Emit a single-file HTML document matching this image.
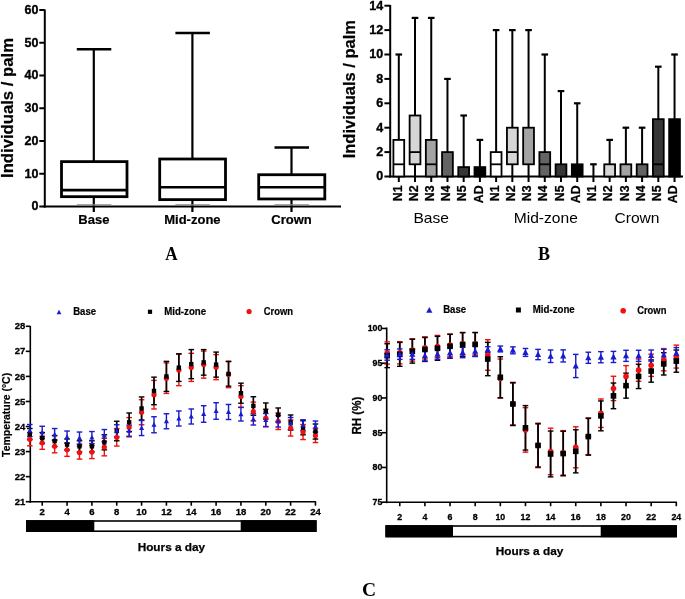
<!DOCTYPE html>
<html><head><meta charset="utf-8"><style>
html,body{margin:0;padding:0;background:#fff;width:685px;height:599px;overflow:hidden}
svg{display:block;will-change:transform}
</style></head><body>
<svg width="685" height="599" viewBox="0 0 685 599">
<rect width="685" height="599" fill="#fff"/>
<line x1="44.8" y1="9.5" x2="44.8" y2="207.5" stroke="#000" stroke-width="2"/>
<line x1="43.8" y1="206.5" x2="341" y2="206.5" stroke="#000" stroke-width="2"/>
<line x1="39.3" y1="206.5" x2="44.8" y2="206.5" stroke="#000" stroke-width="2"/>
<text font-family='"Liberation Sans", sans-serif' font-size="12.5" font-weight="bold" text-anchor="end" fill="#000" transform="translate(38.4 210.3)" stroke="#000" stroke-width="0.35">0</text>
<line x1="39.3" y1="173.75" x2="44.8" y2="173.75" stroke="#000" stroke-width="2"/>
<text font-family='"Liberation Sans", sans-serif' font-size="12.5" font-weight="bold" text-anchor="end" fill="#000" transform="translate(38.4 177.55)" stroke="#000" stroke-width="0.35">10</text>
<line x1="39.3" y1="141" x2="44.8" y2="141" stroke="#000" stroke-width="2"/>
<text font-family='"Liberation Sans", sans-serif' font-size="12.5" font-weight="bold" text-anchor="end" fill="#000" transform="translate(38.4 144.8)" stroke="#000" stroke-width="0.35">20</text>
<line x1="39.3" y1="108.25" x2="44.8" y2="108.25" stroke="#000" stroke-width="2"/>
<text font-family='"Liberation Sans", sans-serif' font-size="12.5" font-weight="bold" text-anchor="end" fill="#000" transform="translate(38.4 112.05)" stroke="#000" stroke-width="0.35">30</text>
<line x1="39.3" y1="75.5" x2="44.8" y2="75.5" stroke="#000" stroke-width="2"/>
<text font-family='"Liberation Sans", sans-serif' font-size="12.5" font-weight="bold" text-anchor="end" fill="#000" transform="translate(38.4 79.3)" stroke="#000" stroke-width="0.35">40</text>
<line x1="39.3" y1="42.75" x2="44.8" y2="42.75" stroke="#000" stroke-width="2"/>
<text font-family='"Liberation Sans", sans-serif' font-size="12.5" font-weight="bold" text-anchor="end" fill="#000" transform="translate(38.4 46.55)" stroke="#000" stroke-width="0.35">50</text>
<line x1="39.3" y1="10" x2="44.8" y2="10" stroke="#000" stroke-width="2"/>
<text font-family='"Liberation Sans", sans-serif' font-size="12.5" font-weight="bold" text-anchor="end" fill="#000" transform="translate(38.4 13.8)" stroke="#000" stroke-width="0.35">60</text>
<line x1="93.8" y1="49.3" x2="93.8" y2="161.63" stroke="#000" stroke-width="2.2"/>
<line x1="93.8" y1="196.68" x2="93.8" y2="212" stroke="#000" stroke-width="2.2"/>
<line x1="76.8" y1="49.3" x2="111.3" y2="49.3" stroke="#000" stroke-width="2.6"/>
<line x1="76.8" y1="204.9" x2="111.3" y2="204.9" stroke="#888" stroke-width="1.2"/>
<rect x="61.5" y="161.63" width="65.5" height="35.04" fill="none" stroke="#000" stroke-width="2.8"/>
<line x1="61.5" y1="190.12" x2="127" y2="190.12" stroke="#000" stroke-width="2.6"/>
<text font-family='"Liberation Sans", sans-serif' font-size="12" font-weight="bold" text-anchor="middle" fill="#000" transform="translate(93.8 223.6) scale(1.085 1)" stroke="#000" stroke-width="0.2">Base</text>
<line x1="192.4" y1="32.93" x2="192.4" y2="159.01" stroke="#000" stroke-width="2.2"/>
<line x1="192.4" y1="199.62" x2="192.4" y2="212" stroke="#000" stroke-width="2.2"/>
<line x1="175.4" y1="32.93" x2="209.9" y2="32.93" stroke="#000" stroke-width="2.6"/>
<line x1="175.4" y1="204.9" x2="209.9" y2="204.9" stroke="#888" stroke-width="1.2"/>
<rect x="159.7" y="159.01" width="65.8" height="40.61" fill="none" stroke="#000" stroke-width="2.8"/>
<line x1="159.7" y1="187.18" x2="225.5" y2="187.18" stroke="#000" stroke-width="2.6"/>
<text font-family='"Liberation Sans", sans-serif' font-size="12" font-weight="bold" text-anchor="middle" fill="#000" transform="translate(192.4 223.6) scale(1.085 1)" stroke="#000" stroke-width="0.2">Mid-zone</text>
<line x1="291.5" y1="147.55" x2="291.5" y2="174.73" stroke="#000" stroke-width="2.2"/>
<line x1="291.5" y1="198.97" x2="291.5" y2="212" stroke="#000" stroke-width="2.2"/>
<line x1="274.5" y1="147.55" x2="309" y2="147.55" stroke="#000" stroke-width="2.6"/>
<line x1="274.5" y1="204.9" x2="309" y2="204.9" stroke="#888" stroke-width="1.2"/>
<rect x="258.7" y="174.73" width="66.1" height="24.23" fill="none" stroke="#000" stroke-width="2.8"/>
<line x1="258.7" y1="187.18" x2="324.8" y2="187.18" stroke="#000" stroke-width="2.6"/>
<text font-family='"Liberation Sans", sans-serif' font-size="12" font-weight="bold" text-anchor="middle" fill="#000" transform="translate(291.5 223.6) scale(1.085 1)" stroke="#000" stroke-width="0.2">Crown</text>
<text font-family='"Liberation Sans", sans-serif' font-size="15.6" font-weight="bold" text-anchor="middle" fill="#000" transform="translate(12.8 108) rotate(-90) scale(1.070 1)" stroke="#000" stroke-width="0.2">Individuals / palm</text>
<text font-family='"Liberation Serif", serif' font-size="19" font-weight="bold" text-anchor="middle" fill="#000" transform="translate(171.3 260) scale(0.900 1)">A</text>
<line x1="390.2" y1="5" x2="390.2" y2="177.5" stroke="#000" stroke-width="2"/>
<line x1="389.2" y1="176.5" x2="683" y2="176.5" stroke="#000" stroke-width="2"/>
<line x1="384.4" y1="176.5" x2="390.2" y2="176.5" stroke="#000" stroke-width="2"/>
<text font-family='"Liberation Sans", sans-serif' font-size="12.5" font-weight="bold" text-anchor="end" fill="#000" transform="translate(383.1 180.3)" stroke="#000" stroke-width="0.35">0</text>
<line x1="384.4" y1="152.1" x2="390.2" y2="152.1" stroke="#000" stroke-width="2"/>
<text font-family='"Liberation Sans", sans-serif' font-size="12.5" font-weight="bold" text-anchor="end" fill="#000" transform="translate(383.1 155.9)" stroke="#000" stroke-width="0.35">2</text>
<line x1="384.4" y1="127.7" x2="390.2" y2="127.7" stroke="#000" stroke-width="2"/>
<text font-family='"Liberation Sans", sans-serif' font-size="12.5" font-weight="bold" text-anchor="end" fill="#000" transform="translate(383.1 131.5)" stroke="#000" stroke-width="0.35">4</text>
<line x1="384.4" y1="103.3" x2="390.2" y2="103.3" stroke="#000" stroke-width="2"/>
<text font-family='"Liberation Sans", sans-serif' font-size="12.5" font-weight="bold" text-anchor="end" fill="#000" transform="translate(383.1 107.1)" stroke="#000" stroke-width="0.35">6</text>
<line x1="384.4" y1="78.9" x2="390.2" y2="78.9" stroke="#000" stroke-width="2"/>
<text font-family='"Liberation Sans", sans-serif' font-size="12.5" font-weight="bold" text-anchor="end" fill="#000" transform="translate(383.1 82.7)" stroke="#000" stroke-width="0.35">8</text>
<line x1="384.4" y1="54.5" x2="390.2" y2="54.5" stroke="#000" stroke-width="2"/>
<text font-family='"Liberation Sans", sans-serif' font-size="12.5" font-weight="bold" text-anchor="end" fill="#000" transform="translate(383.1 58.3)" stroke="#000" stroke-width="0.35">10</text>
<line x1="384.4" y1="30.1" x2="390.2" y2="30.1" stroke="#000" stroke-width="2"/>
<text font-family='"Liberation Sans", sans-serif' font-size="12.5" font-weight="bold" text-anchor="end" fill="#000" transform="translate(383.1 33.9)" stroke="#000" stroke-width="0.35">12</text>
<line x1="384.4" y1="5.7" x2="390.2" y2="5.7" stroke="#000" stroke-width="2"/>
<text font-family='"Liberation Sans", sans-serif' font-size="12.5" font-weight="bold" text-anchor="end" fill="#000" transform="translate(383.1 9.5)" stroke="#000" stroke-width="0.35">14</text>
<line x1="398.8" y1="54.5" x2="398.8" y2="139.9" stroke="#000" stroke-width="2"/>
<line x1="395.5" y1="54.5" x2="402.1" y2="54.5" stroke="#000" stroke-width="2.2"/>
<rect x="393.4" y="139.9" width="10.8" height="36.6" fill="#ffffff" stroke="#000" stroke-width="1.8"/>
<line x1="393.4" y1="164.3" x2="404.2" y2="164.3" stroke="#000" stroke-width="1.8"/>
<line x1="398.8" y1="176.5" x2="398.8" y2="182" stroke="#000" stroke-width="2"/>
<text font-family='"Liberation Sans", sans-serif' font-size="12.4" font-weight="bold" text-anchor="end" fill="#000" transform="translate(401.5 185.4) rotate(-90)" stroke="#000" stroke-width="0.25">N1</text>
<line x1="415.02" y1="17.9" x2="415.02" y2="115.5" stroke="#000" stroke-width="2"/>
<line x1="411.72" y1="17.9" x2="418.32" y2="17.9" stroke="#000" stroke-width="2.2"/>
<line x1="415.02" y1="164.3" x2="415.02" y2="176.5" stroke="#000" stroke-width="2"/>
<rect x="409.62" y="115.5" width="10.8" height="48.8" fill="#d6d6d6" stroke="#000" stroke-width="1.8"/>
<line x1="409.62" y1="152.1" x2="420.42" y2="152.1" stroke="#000" stroke-width="1.8"/>
<line x1="415.02" y1="176.5" x2="415.02" y2="182" stroke="#000" stroke-width="2"/>
<text font-family='"Liberation Sans", sans-serif' font-size="12.4" font-weight="bold" text-anchor="end" fill="#000" transform="translate(417.72 185.4) rotate(-90)" stroke="#000" stroke-width="0.25">N2</text>
<line x1="431.24" y1="17.9" x2="431.24" y2="139.9" stroke="#000" stroke-width="2"/>
<line x1="427.94" y1="17.9" x2="434.54" y2="17.9" stroke="#000" stroke-width="2.2"/>
<rect x="425.84" y="139.9" width="10.8" height="36.6" fill="#a3a3a3" stroke="#000" stroke-width="1.8"/>
<line x1="425.84" y1="164.3" x2="436.64" y2="164.3" stroke="#000" stroke-width="1.8"/>
<line x1="431.24" y1="176.5" x2="431.24" y2="182" stroke="#000" stroke-width="2"/>
<text font-family='"Liberation Sans", sans-serif' font-size="12.4" font-weight="bold" text-anchor="end" fill="#000" transform="translate(433.94 185.4) rotate(-90)" stroke="#000" stroke-width="0.25">N3</text>
<line x1="447.46" y1="78.9" x2="447.46" y2="152.1" stroke="#000" stroke-width="2"/>
<line x1="444.16" y1="78.9" x2="450.76" y2="78.9" stroke="#000" stroke-width="2.2"/>
<rect x="442.06" y="152.1" width="10.8" height="24.4" fill="#636363" stroke="#000" stroke-width="1.8"/>
<line x1="447.46" y1="176.5" x2="447.46" y2="182" stroke="#000" stroke-width="2"/>
<text font-family='"Liberation Sans", sans-serif' font-size="12.4" font-weight="bold" text-anchor="end" fill="#000" transform="translate(450.16 185.4) rotate(-90)" stroke="#000" stroke-width="0.25">N4</text>
<line x1="463.68" y1="115.5" x2="463.68" y2="167.11" stroke="#000" stroke-width="2"/>
<line x1="460.38" y1="115.5" x2="466.98" y2="115.5" stroke="#000" stroke-width="2.2"/>
<rect x="458.28" y="167.11" width="10.8" height="9.39" fill="#363636" stroke="#000" stroke-width="1.8"/>
<line x1="463.68" y1="176.5" x2="463.68" y2="182" stroke="#000" stroke-width="2"/>
<text font-family='"Liberation Sans", sans-serif' font-size="12.4" font-weight="bold" text-anchor="end" fill="#000" transform="translate(466.38 185.4) rotate(-90)" stroke="#000" stroke-width="0.25">N5</text>
<line x1="479.9" y1="139.9" x2="479.9" y2="167.11" stroke="#000" stroke-width="2"/>
<line x1="476.6" y1="139.9" x2="483.2" y2="139.9" stroke="#000" stroke-width="2.2"/>
<rect x="474.5" y="167.11" width="10.8" height="9.39" fill="#000000" stroke="#000" stroke-width="1.8"/>
<line x1="479.9" y1="176.5" x2="479.9" y2="182" stroke="#000" stroke-width="2"/>
<text font-family='"Liberation Sans", sans-serif' font-size="12.4" font-weight="bold" text-anchor="end" fill="#000" transform="translate(482.6 185.4) rotate(-90)" stroke="#000" stroke-width="0.25">AD</text>
<line x1="496.12" y1="30.1" x2="496.12" y2="152.1" stroke="#000" stroke-width="2"/>
<line x1="492.82" y1="30.1" x2="499.42" y2="30.1" stroke="#000" stroke-width="2.2"/>
<rect x="490.72" y="152.1" width="10.8" height="24.4" fill="#ffffff" stroke="#000" stroke-width="1.8"/>
<line x1="490.72" y1="164.3" x2="501.52" y2="164.3" stroke="#000" stroke-width="1.8"/>
<line x1="496.12" y1="176.5" x2="496.12" y2="182" stroke="#000" stroke-width="2"/>
<text font-family='"Liberation Sans", sans-serif' font-size="12.4" font-weight="bold" text-anchor="end" fill="#000" transform="translate(498.82 185.4) rotate(-90)" stroke="#000" stroke-width="0.25">N1</text>
<line x1="512.34" y1="30.1" x2="512.34" y2="127.7" stroke="#000" stroke-width="2"/>
<line x1="509.04" y1="30.1" x2="515.64" y2="30.1" stroke="#000" stroke-width="2.2"/>
<line x1="512.34" y1="164.3" x2="512.34" y2="176.5" stroke="#000" stroke-width="2"/>
<rect x="506.94" y="127.7" width="10.8" height="36.6" fill="#d6d6d6" stroke="#000" stroke-width="1.8"/>
<line x1="506.94" y1="152.1" x2="517.74" y2="152.1" stroke="#000" stroke-width="1.8"/>
<line x1="512.34" y1="176.5" x2="512.34" y2="182" stroke="#000" stroke-width="2"/>
<text font-family='"Liberation Sans", sans-serif' font-size="12.4" font-weight="bold" text-anchor="end" fill="#000" transform="translate(515.04 185.4) rotate(-90)" stroke="#000" stroke-width="0.25">N2</text>
<line x1="528.56" y1="30.1" x2="528.56" y2="127.7" stroke="#000" stroke-width="2"/>
<line x1="525.26" y1="30.1" x2="531.86" y2="30.1" stroke="#000" stroke-width="2.2"/>
<line x1="528.56" y1="164.3" x2="528.56" y2="176.5" stroke="#000" stroke-width="2"/>
<rect x="523.16" y="127.7" width="10.8" height="36.6" fill="#a3a3a3" stroke="#000" stroke-width="1.8"/>
<line x1="528.56" y1="176.5" x2="528.56" y2="182" stroke="#000" stroke-width="2"/>
<text font-family='"Liberation Sans", sans-serif' font-size="12.4" font-weight="bold" text-anchor="end" fill="#000" transform="translate(531.26 185.4) rotate(-90)" stroke="#000" stroke-width="0.25">N3</text>
<line x1="544.78" y1="54.5" x2="544.78" y2="152.1" stroke="#000" stroke-width="2"/>
<line x1="541.48" y1="54.5" x2="548.08" y2="54.5" stroke="#000" stroke-width="2.2"/>
<rect x="539.38" y="152.1" width="10.8" height="24.4" fill="#636363" stroke="#000" stroke-width="1.8"/>
<line x1="539.38" y1="164.3" x2="550.18" y2="164.3" stroke="#000" stroke-width="1.8"/>
<line x1="544.78" y1="176.5" x2="544.78" y2="182" stroke="#000" stroke-width="2"/>
<text font-family='"Liberation Sans", sans-serif' font-size="12.4" font-weight="bold" text-anchor="end" fill="#000" transform="translate(547.48 185.4) rotate(-90)" stroke="#000" stroke-width="0.25">N4</text>
<line x1="561" y1="91.1" x2="561" y2="164.3" stroke="#000" stroke-width="2"/>
<line x1="557.7" y1="91.1" x2="564.3" y2="91.1" stroke="#000" stroke-width="2.2"/>
<rect x="555.6" y="164.3" width="10.8" height="12.2" fill="#363636" stroke="#000" stroke-width="1.8"/>
<line x1="561" y1="176.5" x2="561" y2="182" stroke="#000" stroke-width="2"/>
<text font-family='"Liberation Sans", sans-serif' font-size="12.4" font-weight="bold" text-anchor="end" fill="#000" transform="translate(563.7 185.4) rotate(-90)" stroke="#000" stroke-width="0.25">N5</text>
<line x1="577.22" y1="103.3" x2="577.22" y2="164.3" stroke="#000" stroke-width="2"/>
<line x1="573.92" y1="103.3" x2="580.52" y2="103.3" stroke="#000" stroke-width="2.2"/>
<rect x="571.82" y="164.3" width="10.8" height="12.2" fill="#000000" stroke="#000" stroke-width="1.8"/>
<line x1="577.22" y1="176.5" x2="577.22" y2="182" stroke="#000" stroke-width="2"/>
<text font-family='"Liberation Sans", sans-serif' font-size="12.4" font-weight="bold" text-anchor="end" fill="#000" transform="translate(579.92 185.4) rotate(-90)" stroke="#000" stroke-width="0.25">AD</text>
<line x1="593.44" y1="164.3" x2="593.44" y2="176.5" stroke="#000" stroke-width="2"/>
<line x1="590.14" y1="164.3" x2="596.74" y2="164.3" stroke="#000" stroke-width="2.2"/>
<line x1="593.44" y1="176.5" x2="593.44" y2="182" stroke="#000" stroke-width="2"/>
<text font-family='"Liberation Sans", sans-serif' font-size="12.4" font-weight="bold" text-anchor="end" fill="#000" transform="translate(596.14 185.4) rotate(-90)" stroke="#000" stroke-width="0.25">N1</text>
<line x1="609.66" y1="139.9" x2="609.66" y2="164.3" stroke="#000" stroke-width="2"/>
<line x1="606.36" y1="139.9" x2="612.96" y2="139.9" stroke="#000" stroke-width="2.2"/>
<rect x="604.26" y="164.3" width="10.8" height="12.2" fill="#d6d6d6" stroke="#000" stroke-width="1.8"/>
<line x1="609.66" y1="176.5" x2="609.66" y2="182" stroke="#000" stroke-width="2"/>
<text font-family='"Liberation Sans", sans-serif' font-size="12.4" font-weight="bold" text-anchor="end" fill="#000" transform="translate(612.36 185.4) rotate(-90)" stroke="#000" stroke-width="0.25">N2</text>
<line x1="625.88" y1="127.7" x2="625.88" y2="164.3" stroke="#000" stroke-width="2"/>
<line x1="622.58" y1="127.7" x2="629.18" y2="127.7" stroke="#000" stroke-width="2.2"/>
<rect x="620.48" y="164.3" width="10.8" height="12.2" fill="#a3a3a3" stroke="#000" stroke-width="1.8"/>
<line x1="625.88" y1="176.5" x2="625.88" y2="182" stroke="#000" stroke-width="2"/>
<text font-family='"Liberation Sans", sans-serif' font-size="12.4" font-weight="bold" text-anchor="end" fill="#000" transform="translate(628.58 185.4) rotate(-90)" stroke="#000" stroke-width="0.25">N3</text>
<line x1="642.1" y1="127.7" x2="642.1" y2="164.3" stroke="#000" stroke-width="2"/>
<line x1="638.8" y1="127.7" x2="645.4" y2="127.7" stroke="#000" stroke-width="2.2"/>
<rect x="636.7" y="164.3" width="10.8" height="12.2" fill="#636363" stroke="#000" stroke-width="1.8"/>
<line x1="642.1" y1="176.5" x2="642.1" y2="182" stroke="#000" stroke-width="2"/>
<text font-family='"Liberation Sans", sans-serif' font-size="12.4" font-weight="bold" text-anchor="end" fill="#000" transform="translate(644.8 185.4) rotate(-90)" stroke="#000" stroke-width="0.25">N4</text>
<line x1="658.32" y1="66.7" x2="658.32" y2="119.16" stroke="#000" stroke-width="2"/>
<line x1="655.02" y1="66.7" x2="661.62" y2="66.7" stroke="#000" stroke-width="2.2"/>
<rect x="652.92" y="119.16" width="10.8" height="57.34" fill="#363636" stroke="#000" stroke-width="1.8"/>
<line x1="652.92" y1="164.3" x2="663.72" y2="164.3" stroke="#000" stroke-width="1.8"/>
<line x1="658.32" y1="176.5" x2="658.32" y2="182" stroke="#000" stroke-width="2"/>
<text font-family='"Liberation Sans", sans-serif' font-size="12.4" font-weight="bold" text-anchor="end" fill="#000" transform="translate(661.02 185.4) rotate(-90)" stroke="#000" stroke-width="0.25">N5</text>
<line x1="674.54" y1="54.5" x2="674.54" y2="119.16" stroke="#000" stroke-width="2"/>
<line x1="671.24" y1="54.5" x2="677.84" y2="54.5" stroke="#000" stroke-width="2.2"/>
<rect x="669.14" y="119.16" width="10.8" height="57.34" fill="#000000" stroke="#000" stroke-width="1.8"/>
<line x1="674.54" y1="176.5" x2="674.54" y2="182" stroke="#000" stroke-width="2"/>
<text font-family='"Liberation Sans", sans-serif' font-size="12.4" font-weight="bold" text-anchor="end" fill="#000" transform="translate(677.24 185.4) rotate(-90)" stroke="#000" stroke-width="0.25">AD</text>
<text font-family='"Liberation Sans", sans-serif' font-size="15" font-weight="normal" text-anchor="middle" fill="#000" transform="translate(431.2 222.6) scale(1.040 1)">Base</text>
<text font-family='"Liberation Sans", sans-serif' font-size="15" font-weight="normal" text-anchor="middle" fill="#000" transform="translate(545.8 222.6) scale(1.040 1)">Mid-zone</text>
<text font-family='"Liberation Sans", sans-serif' font-size="15" font-weight="normal" text-anchor="middle" fill="#000" transform="translate(637 222.6) scale(1.040 1)">Crown</text>
<text font-family='"Liberation Sans", sans-serif' font-size="15.7" font-weight="bold" text-anchor="middle" fill="#000" transform="translate(354.6 89.2) rotate(-90) scale(1.050 1)" stroke="#000" stroke-width="0.2">Individuals / palm</text>
<text font-family='"Liberation Serif", serif' font-size="19" font-weight="bold" text-anchor="middle" fill="#000" transform="translate(544 259.6) scale(0.950 1)">B</text>
<line x1="30.3" y1="326" x2="30.3" y2="502.7" stroke="#000" stroke-width="1.6"/>
<line x1="29.3" y1="501.7" x2="315.9" y2="501.7" stroke="#000" stroke-width="1.6"/>
<line x1="25.8" y1="501.7" x2="30.3" y2="501.7" stroke="#000" stroke-width="1.6"/>
<text font-family='"Liberation Sans", sans-serif' font-size="9.5" font-weight="bold" text-anchor="end" fill="#000" transform="translate(25.3 504.8)" stroke="#000" stroke-width="0.3">21</text>
<line x1="25.8" y1="476.64" x2="30.3" y2="476.64" stroke="#000" stroke-width="1.6"/>
<text font-family='"Liberation Sans", sans-serif' font-size="9.5" font-weight="bold" text-anchor="end" fill="#000" transform="translate(25.3 479.74)" stroke="#000" stroke-width="0.3">22</text>
<line x1="25.8" y1="451.58" x2="30.3" y2="451.58" stroke="#000" stroke-width="1.6"/>
<text font-family='"Liberation Sans", sans-serif' font-size="9.5" font-weight="bold" text-anchor="end" fill="#000" transform="translate(25.3 454.68)" stroke="#000" stroke-width="0.3">23</text>
<line x1="25.8" y1="426.52" x2="30.3" y2="426.52" stroke="#000" stroke-width="1.6"/>
<text font-family='"Liberation Sans", sans-serif' font-size="9.5" font-weight="bold" text-anchor="end" fill="#000" transform="translate(25.3 429.62)" stroke="#000" stroke-width="0.3">24</text>
<line x1="25.8" y1="401.46" x2="30.3" y2="401.46" stroke="#000" stroke-width="1.6"/>
<text font-family='"Liberation Sans", sans-serif' font-size="9.5" font-weight="bold" text-anchor="end" fill="#000" transform="translate(25.3 404.56)" stroke="#000" stroke-width="0.3">25</text>
<line x1="25.8" y1="376.4" x2="30.3" y2="376.4" stroke="#000" stroke-width="1.6"/>
<text font-family='"Liberation Sans", sans-serif' font-size="9.5" font-weight="bold" text-anchor="end" fill="#000" transform="translate(25.3 379.5)" stroke="#000" stroke-width="0.3">26</text>
<line x1="25.8" y1="351.34" x2="30.3" y2="351.34" stroke="#000" stroke-width="1.6"/>
<text font-family='"Liberation Sans", sans-serif' font-size="9.5" font-weight="bold" text-anchor="end" fill="#000" transform="translate(25.3 354.44)" stroke="#000" stroke-width="0.3">27</text>
<line x1="25.8" y1="326.28" x2="30.3" y2="326.28" stroke="#000" stroke-width="1.6"/>
<text font-family='"Liberation Sans", sans-serif' font-size="9.5" font-weight="bold" text-anchor="end" fill="#000" transform="translate(25.3 329.38)" stroke="#000" stroke-width="0.3">28</text>
<line x1="42.22" y1="501.7" x2="42.22" y2="505.7" stroke="#000" stroke-width="1.6"/>
<text font-family='"Liberation Sans", sans-serif' font-size="9.5" font-weight="bold" text-anchor="middle" fill="#000" transform="translate(42.22 515.2)" stroke="#000" stroke-width="0.3">2</text>
<line x1="67.06" y1="501.7" x2="67.06" y2="505.7" stroke="#000" stroke-width="1.6"/>
<text font-family='"Liberation Sans", sans-serif' font-size="9.5" font-weight="bold" text-anchor="middle" fill="#000" transform="translate(67.06 515.2)" stroke="#000" stroke-width="0.3">4</text>
<line x1="91.9" y1="501.7" x2="91.9" y2="505.7" stroke="#000" stroke-width="1.6"/>
<text font-family='"Liberation Sans", sans-serif' font-size="9.5" font-weight="bold" text-anchor="middle" fill="#000" transform="translate(91.9 515.2)" stroke="#000" stroke-width="0.3">6</text>
<line x1="116.74" y1="501.7" x2="116.74" y2="505.7" stroke="#000" stroke-width="1.6"/>
<text font-family='"Liberation Sans", sans-serif' font-size="9.5" font-weight="bold" text-anchor="middle" fill="#000" transform="translate(116.74 515.2)" stroke="#000" stroke-width="0.3">8</text>
<line x1="141.58" y1="501.7" x2="141.58" y2="505.7" stroke="#000" stroke-width="1.6"/>
<text font-family='"Liberation Sans", sans-serif' font-size="9.5" font-weight="bold" text-anchor="middle" fill="#000" transform="translate(141.58 515.2)" stroke="#000" stroke-width="0.3">10</text>
<line x1="166.42" y1="501.7" x2="166.42" y2="505.7" stroke="#000" stroke-width="1.6"/>
<text font-family='"Liberation Sans", sans-serif' font-size="9.5" font-weight="bold" text-anchor="middle" fill="#000" transform="translate(166.42 515.2)" stroke="#000" stroke-width="0.3">12</text>
<line x1="191.26" y1="501.7" x2="191.26" y2="505.7" stroke="#000" stroke-width="1.6"/>
<text font-family='"Liberation Sans", sans-serif' font-size="9.5" font-weight="bold" text-anchor="middle" fill="#000" transform="translate(191.26 515.2)" stroke="#000" stroke-width="0.3">14</text>
<line x1="216.1" y1="501.7" x2="216.1" y2="505.7" stroke="#000" stroke-width="1.6"/>
<text font-family='"Liberation Sans", sans-serif' font-size="9.5" font-weight="bold" text-anchor="middle" fill="#000" transform="translate(216.1 515.2)" stroke="#000" stroke-width="0.3">16</text>
<line x1="240.94" y1="501.7" x2="240.94" y2="505.7" stroke="#000" stroke-width="1.6"/>
<text font-family='"Liberation Sans", sans-serif' font-size="9.5" font-weight="bold" text-anchor="middle" fill="#000" transform="translate(240.94 515.2)" stroke="#000" stroke-width="0.3">18</text>
<line x1="265.78" y1="501.7" x2="265.78" y2="505.7" stroke="#000" stroke-width="1.6"/>
<text font-family='"Liberation Sans", sans-serif' font-size="9.5" font-weight="bold" text-anchor="middle" fill="#000" transform="translate(265.78 515.2)" stroke="#000" stroke-width="0.3">20</text>
<line x1="290.62" y1="501.7" x2="290.62" y2="505.7" stroke="#000" stroke-width="1.6"/>
<text font-family='"Liberation Sans", sans-serif' font-size="9.5" font-weight="bold" text-anchor="middle" fill="#000" transform="translate(290.62 515.2)" stroke="#000" stroke-width="0.3">22</text>
<line x1="315.46" y1="501.7" x2="315.46" y2="505.7" stroke="#000" stroke-width="1.6"/>
<text font-family='"Liberation Sans", sans-serif' font-size="9.5" font-weight="bold" text-anchor="middle" fill="#000" transform="translate(315.46 515.2)" stroke="#000" stroke-width="0.3">24</text>
<line x1="29.8" y1="432.78" x2="29.8" y2="445.82" stroke="#f01010" stroke-width="1.4"/>
<line x1="27" y1="432.78" x2="32.6" y2="432.78" stroke="#f01010" stroke-width="1.4"/>
<line x1="27" y1="445.82" x2="32.6" y2="445.82" stroke="#f01010" stroke-width="1.4"/>
<line x1="42.22" y1="436.29" x2="42.22" y2="449.32" stroke="#f01010" stroke-width="1.4"/>
<line x1="39.42" y1="436.29" x2="45.02" y2="436.29" stroke="#f01010" stroke-width="1.4"/>
<line x1="39.42" y1="449.32" x2="45.02" y2="449.32" stroke="#f01010" stroke-width="1.4"/>
<line x1="54.64" y1="439.8" x2="54.64" y2="452.83" stroke="#f01010" stroke-width="1.4"/>
<line x1="51.84" y1="439.8" x2="57.44" y2="439.8" stroke="#f01010" stroke-width="1.4"/>
<line x1="51.84" y1="452.83" x2="57.44" y2="452.83" stroke="#f01010" stroke-width="1.4"/>
<line x1="67.06" y1="443.31" x2="67.06" y2="456.34" stroke="#f01010" stroke-width="1.4"/>
<line x1="64.26" y1="443.31" x2="69.86" y2="443.31" stroke="#f01010" stroke-width="1.4"/>
<line x1="64.26" y1="456.34" x2="69.86" y2="456.34" stroke="#f01010" stroke-width="1.4"/>
<line x1="79.48" y1="446.07" x2="79.48" y2="459.1" stroke="#f01010" stroke-width="1.4"/>
<line x1="76.68" y1="446.07" x2="82.28" y2="446.07" stroke="#f01010" stroke-width="1.4"/>
<line x1="76.68" y1="459.1" x2="82.28" y2="459.1" stroke="#f01010" stroke-width="1.4"/>
<line x1="91.9" y1="445.57" x2="91.9" y2="458.6" stroke="#f01010" stroke-width="1.4"/>
<line x1="89.1" y1="445.57" x2="94.7" y2="445.57" stroke="#f01010" stroke-width="1.4"/>
<line x1="89.1" y1="458.6" x2="94.7" y2="458.6" stroke="#f01010" stroke-width="1.4"/>
<line x1="104.32" y1="438.3" x2="104.32" y2="455.84" stroke="#f01010" stroke-width="1.4"/>
<line x1="101.52" y1="438.3" x2="107.12" y2="438.3" stroke="#f01010" stroke-width="1.4"/>
<line x1="101.52" y1="455.84" x2="107.12" y2="455.84" stroke="#f01010" stroke-width="1.4"/>
<line x1="116.74" y1="428.52" x2="116.74" y2="446.07" stroke="#f01010" stroke-width="1.4"/>
<line x1="113.94" y1="428.52" x2="119.54" y2="428.52" stroke="#f01010" stroke-width="1.4"/>
<line x1="113.94" y1="446.07" x2="119.54" y2="446.07" stroke="#f01010" stroke-width="1.4"/>
<line x1="129.16" y1="417.62" x2="129.16" y2="436.92" stroke="#f01010" stroke-width="1.4"/>
<line x1="126.36" y1="417.62" x2="131.96" y2="417.62" stroke="#f01010" stroke-width="1.4"/>
<line x1="126.36" y1="436.92" x2="131.96" y2="436.92" stroke="#f01010" stroke-width="1.4"/>
<line x1="141.58" y1="399.71" x2="141.58" y2="424.77" stroke="#f01010" stroke-width="1.4"/>
<line x1="138.78" y1="399.71" x2="144.38" y2="399.71" stroke="#f01010" stroke-width="1.4"/>
<line x1="138.78" y1="424.77" x2="144.38" y2="424.77" stroke="#f01010" stroke-width="1.4"/>
<line x1="154" y1="380.41" x2="154" y2="408.98" stroke="#f01010" stroke-width="1.4"/>
<line x1="151.2" y1="380.41" x2="156.8" y2="380.41" stroke="#f01010" stroke-width="1.4"/>
<line x1="151.2" y1="408.98" x2="156.8" y2="408.98" stroke="#f01010" stroke-width="1.4"/>
<line x1="166.42" y1="362.87" x2="166.42" y2="393.44" stroke="#f01010" stroke-width="1.4"/>
<line x1="163.62" y1="362.87" x2="169.22" y2="362.87" stroke="#f01010" stroke-width="1.4"/>
<line x1="163.62" y1="393.44" x2="169.22" y2="393.44" stroke="#f01010" stroke-width="1.4"/>
<line x1="178.84" y1="354.1" x2="178.84" y2="385.67" stroke="#f01010" stroke-width="1.4"/>
<line x1="176.04" y1="354.1" x2="181.64" y2="354.1" stroke="#f01010" stroke-width="1.4"/>
<line x1="176.04" y1="385.67" x2="181.64" y2="385.67" stroke="#f01010" stroke-width="1.4"/>
<line x1="191.26" y1="353.34" x2="191.26" y2="381.41" stroke="#f01010" stroke-width="1.4"/>
<line x1="188.46" y1="353.34" x2="194.06" y2="353.34" stroke="#f01010" stroke-width="1.4"/>
<line x1="188.46" y1="381.41" x2="194.06" y2="381.41" stroke="#f01010" stroke-width="1.4"/>
<line x1="203.68" y1="351.09" x2="203.68" y2="378.15" stroke="#f01010" stroke-width="1.4"/>
<line x1="200.88" y1="351.09" x2="206.48" y2="351.09" stroke="#f01010" stroke-width="1.4"/>
<line x1="200.88" y1="378.15" x2="206.48" y2="378.15" stroke="#f01010" stroke-width="1.4"/>
<line x1="216.1" y1="354.6" x2="216.1" y2="379.66" stroke="#f01010" stroke-width="1.4"/>
<line x1="213.3" y1="354.6" x2="218.9" y2="354.6" stroke="#f01010" stroke-width="1.4"/>
<line x1="213.3" y1="379.66" x2="218.9" y2="379.66" stroke="#f01010" stroke-width="1.4"/>
<line x1="228.52" y1="361.11" x2="228.52" y2="387.68" stroke="#f01010" stroke-width="1.4"/>
<line x1="225.72" y1="361.11" x2="231.32" y2="361.11" stroke="#f01010" stroke-width="1.4"/>
<line x1="225.72" y1="387.68" x2="231.32" y2="387.68" stroke="#f01010" stroke-width="1.4"/>
<line x1="240.94" y1="385.67" x2="240.94" y2="407.22" stroke="#f01010" stroke-width="1.4"/>
<line x1="238.14" y1="385.67" x2="243.74" y2="385.67" stroke="#f01010" stroke-width="1.4"/>
<line x1="238.14" y1="407.22" x2="243.74" y2="407.22" stroke="#f01010" stroke-width="1.4"/>
<line x1="253.36" y1="402.09" x2="253.36" y2="420.88" stroke="#f01010" stroke-width="1.4"/>
<line x1="250.56" y1="402.09" x2="256.16" y2="402.09" stroke="#f01010" stroke-width="1.4"/>
<line x1="250.56" y1="420.88" x2="256.16" y2="420.88" stroke="#f01010" stroke-width="1.4"/>
<line x1="265.78" y1="409.23" x2="265.78" y2="426.77" stroke="#f01010" stroke-width="1.4"/>
<line x1="262.98" y1="409.23" x2="268.58" y2="409.23" stroke="#f01010" stroke-width="1.4"/>
<line x1="262.98" y1="426.77" x2="268.58" y2="426.77" stroke="#f01010" stroke-width="1.4"/>
<line x1="278.2" y1="412.99" x2="278.2" y2="429.53" stroke="#f01010" stroke-width="1.4"/>
<line x1="275.4" y1="412.99" x2="281" y2="412.99" stroke="#f01010" stroke-width="1.4"/>
<line x1="275.4" y1="429.53" x2="281" y2="429.53" stroke="#f01010" stroke-width="1.4"/>
<line x1="290.62" y1="420" x2="290.62" y2="436.04" stroke="#f01010" stroke-width="1.4"/>
<line x1="287.82" y1="420" x2="293.42" y2="420" stroke="#f01010" stroke-width="1.4"/>
<line x1="287.82" y1="436.04" x2="293.42" y2="436.04" stroke="#f01010" stroke-width="1.4"/>
<line x1="303.04" y1="424.52" x2="303.04" y2="439.55" stroke="#f01010" stroke-width="1.4"/>
<line x1="300.24" y1="424.52" x2="305.84" y2="424.52" stroke="#f01010" stroke-width="1.4"/>
<line x1="300.24" y1="439.55" x2="305.84" y2="439.55" stroke="#f01010" stroke-width="1.4"/>
<line x1="315.46" y1="428.52" x2="315.46" y2="442.56" stroke="#f01010" stroke-width="1.4"/>
<line x1="312.66" y1="428.52" x2="318.26" y2="428.52" stroke="#f01010" stroke-width="1.4"/>
<line x1="312.66" y1="442.56" x2="318.26" y2="442.56" stroke="#f01010" stroke-width="1.4"/>
<line x1="29.8" y1="428.52" x2="29.8" y2="439.55" stroke="#000" stroke-width="1.7"/>
<line x1="27" y1="428.52" x2="32.6" y2="428.52" stroke="#000" stroke-width="1.4"/>
<line x1="27" y1="439.55" x2="32.6" y2="439.55" stroke="#000" stroke-width="1.4"/>
<line x1="42.22" y1="432.53" x2="42.22" y2="443.56" stroke="#000" stroke-width="1.7"/>
<line x1="39.42" y1="432.53" x2="45.02" y2="432.53" stroke="#000" stroke-width="1.4"/>
<line x1="39.42" y1="443.56" x2="45.02" y2="443.56" stroke="#000" stroke-width="1.4"/>
<line x1="54.64" y1="435.54" x2="54.64" y2="446.57" stroke="#000" stroke-width="1.7"/>
<line x1="51.84" y1="435.54" x2="57.44" y2="435.54" stroke="#000" stroke-width="1.4"/>
<line x1="51.84" y1="446.57" x2="57.44" y2="446.57" stroke="#000" stroke-width="1.4"/>
<line x1="67.06" y1="439.05" x2="67.06" y2="450.08" stroke="#000" stroke-width="1.7"/>
<line x1="64.26" y1="439.05" x2="69.86" y2="439.05" stroke="#000" stroke-width="1.4"/>
<line x1="64.26" y1="450.08" x2="69.86" y2="450.08" stroke="#000" stroke-width="1.4"/>
<line x1="79.48" y1="440.8" x2="79.48" y2="451.83" stroke="#000" stroke-width="1.7"/>
<line x1="76.68" y1="440.8" x2="82.28" y2="440.8" stroke="#000" stroke-width="1.4"/>
<line x1="76.68" y1="451.83" x2="82.28" y2="451.83" stroke="#000" stroke-width="1.4"/>
<line x1="91.9" y1="440.8" x2="91.9" y2="451.83" stroke="#000" stroke-width="1.7"/>
<line x1="89.1" y1="440.8" x2="94.7" y2="440.8" stroke="#000" stroke-width="1.4"/>
<line x1="89.1" y1="451.83" x2="94.7" y2="451.83" stroke="#000" stroke-width="1.4"/>
<line x1="104.32" y1="434.79" x2="104.32" y2="449.83" stroke="#000" stroke-width="1.7"/>
<line x1="101.52" y1="434.79" x2="107.12" y2="434.79" stroke="#000" stroke-width="1.4"/>
<line x1="101.52" y1="449.83" x2="107.12" y2="449.83" stroke="#000" stroke-width="1.4"/>
<line x1="116.74" y1="421.26" x2="116.74" y2="440.8" stroke="#000" stroke-width="1.7"/>
<line x1="113.94" y1="421.26" x2="119.54" y2="421.26" stroke="#000" stroke-width="1.4"/>
<line x1="113.94" y1="440.8" x2="119.54" y2="440.8" stroke="#000" stroke-width="1.4"/>
<line x1="129.16" y1="412.99" x2="129.16" y2="431.53" stroke="#000" stroke-width="1.7"/>
<line x1="126.36" y1="412.99" x2="131.96" y2="412.99" stroke="#000" stroke-width="1.4"/>
<line x1="126.36" y1="431.53" x2="131.96" y2="431.53" stroke="#000" stroke-width="1.4"/>
<line x1="141.58" y1="396.95" x2="141.58" y2="420" stroke="#000" stroke-width="1.7"/>
<line x1="138.78" y1="396.95" x2="144.38" y2="396.95" stroke="#000" stroke-width="1.4"/>
<line x1="138.78" y1="420" x2="144.38" y2="420" stroke="#000" stroke-width="1.4"/>
<line x1="154" y1="377.15" x2="154" y2="404.72" stroke="#000" stroke-width="1.7"/>
<line x1="151.2" y1="377.15" x2="156.8" y2="377.15" stroke="#000" stroke-width="1.4"/>
<line x1="151.2" y1="404.72" x2="156.8" y2="404.72" stroke="#000" stroke-width="1.4"/>
<line x1="166.42" y1="361.36" x2="166.42" y2="391.44" stroke="#000" stroke-width="1.7"/>
<line x1="163.62" y1="361.36" x2="169.22" y2="361.36" stroke="#000" stroke-width="1.4"/>
<line x1="163.62" y1="391.44" x2="169.22" y2="391.44" stroke="#000" stroke-width="1.4"/>
<line x1="178.84" y1="353.85" x2="178.84" y2="381.41" stroke="#000" stroke-width="1.7"/>
<line x1="176.04" y1="353.85" x2="181.64" y2="353.85" stroke="#000" stroke-width="1.4"/>
<line x1="176.04" y1="381.41" x2="181.64" y2="381.41" stroke="#000" stroke-width="1.4"/>
<line x1="191.26" y1="349.59" x2="191.26" y2="378.66" stroke="#000" stroke-width="1.7"/>
<line x1="188.46" y1="349.59" x2="194.06" y2="349.59" stroke="#000" stroke-width="1.4"/>
<line x1="188.46" y1="378.66" x2="194.06" y2="378.66" stroke="#000" stroke-width="1.4"/>
<line x1="203.68" y1="349.59" x2="203.68" y2="375.15" stroke="#000" stroke-width="1.7"/>
<line x1="200.88" y1="349.59" x2="206.48" y2="349.59" stroke="#000" stroke-width="1.4"/>
<line x1="200.88" y1="375.15" x2="206.48" y2="375.15" stroke="#000" stroke-width="1.4"/>
<line x1="216.1" y1="352.09" x2="216.1" y2="377.15" stroke="#000" stroke-width="1.7"/>
<line x1="213.3" y1="352.09" x2="218.9" y2="352.09" stroke="#000" stroke-width="1.4"/>
<line x1="213.3" y1="377.15" x2="218.9" y2="377.15" stroke="#000" stroke-width="1.4"/>
<line x1="228.52" y1="361.61" x2="228.52" y2="386.17" stroke="#000" stroke-width="1.7"/>
<line x1="225.72" y1="361.61" x2="231.32" y2="361.61" stroke="#000" stroke-width="1.4"/>
<line x1="225.72" y1="386.17" x2="231.32" y2="386.17" stroke="#000" stroke-width="1.4"/>
<line x1="240.94" y1="383.17" x2="240.94" y2="403.21" stroke="#000" stroke-width="1.7"/>
<line x1="238.14" y1="383.17" x2="243.74" y2="383.17" stroke="#000" stroke-width="1.4"/>
<line x1="238.14" y1="403.21" x2="243.74" y2="403.21" stroke="#000" stroke-width="1.4"/>
<line x1="253.36" y1="396.7" x2="253.36" y2="415.24" stroke="#000" stroke-width="1.7"/>
<line x1="250.56" y1="396.7" x2="256.16" y2="396.7" stroke="#000" stroke-width="1.4"/>
<line x1="250.56" y1="415.24" x2="256.16" y2="415.24" stroke="#000" stroke-width="1.4"/>
<line x1="265.78" y1="402.96" x2="265.78" y2="419" stroke="#000" stroke-width="1.7"/>
<line x1="262.98" y1="402.96" x2="268.58" y2="402.96" stroke="#000" stroke-width="1.4"/>
<line x1="262.98" y1="419" x2="268.58" y2="419" stroke="#000" stroke-width="1.4"/>
<line x1="278.2" y1="407.98" x2="278.2" y2="422.01" stroke="#000" stroke-width="1.7"/>
<line x1="275.4" y1="407.98" x2="281" y2="407.98" stroke="#000" stroke-width="1.4"/>
<line x1="275.4" y1="422.01" x2="281" y2="422.01" stroke="#000" stroke-width="1.4"/>
<line x1="290.62" y1="414.99" x2="290.62" y2="430.03" stroke="#000" stroke-width="1.7"/>
<line x1="287.82" y1="414.99" x2="293.42" y2="414.99" stroke="#000" stroke-width="1.4"/>
<line x1="287.82" y1="430.03" x2="293.42" y2="430.03" stroke="#000" stroke-width="1.4"/>
<line x1="303.04" y1="420.76" x2="303.04" y2="434.79" stroke="#000" stroke-width="1.7"/>
<line x1="300.24" y1="420.76" x2="305.84" y2="420.76" stroke="#000" stroke-width="1.4"/>
<line x1="300.24" y1="434.79" x2="305.84" y2="434.79" stroke="#000" stroke-width="1.4"/>
<line x1="315.46" y1="424.01" x2="315.46" y2="439.05" stroke="#000" stroke-width="1.7"/>
<line x1="312.66" y1="424.01" x2="318.26" y2="424.01" stroke="#000" stroke-width="1.4"/>
<line x1="312.66" y1="439.05" x2="318.26" y2="439.05" stroke="#000" stroke-width="1.4"/>
<line x1="29.8" y1="424.52" x2="29.8" y2="436.54" stroke="#1a1ad0" stroke-width="1.4"/>
<line x1="27" y1="424.52" x2="32.6" y2="424.52" stroke="#1a1ad0" stroke-width="1.4"/>
<line x1="27" y1="436.54" x2="32.6" y2="436.54" stroke="#1a1ad0" stroke-width="1.4"/>
<line x1="42.22" y1="426.27" x2="42.22" y2="438.3" stroke="#1a1ad0" stroke-width="1.4"/>
<line x1="39.42" y1="426.27" x2="45.02" y2="426.27" stroke="#1a1ad0" stroke-width="1.4"/>
<line x1="39.42" y1="438.3" x2="45.02" y2="438.3" stroke="#1a1ad0" stroke-width="1.4"/>
<line x1="54.64" y1="428.52" x2="54.64" y2="440.55" stroke="#1a1ad0" stroke-width="1.4"/>
<line x1="51.84" y1="428.52" x2="57.44" y2="428.52" stroke="#1a1ad0" stroke-width="1.4"/>
<line x1="51.84" y1="440.55" x2="57.44" y2="440.55" stroke="#1a1ad0" stroke-width="1.4"/>
<line x1="67.06" y1="431.03" x2="67.06" y2="443.06" stroke="#1a1ad0" stroke-width="1.4"/>
<line x1="64.26" y1="431.03" x2="69.86" y2="431.03" stroke="#1a1ad0" stroke-width="1.4"/>
<line x1="64.26" y1="443.06" x2="69.86" y2="443.06" stroke="#1a1ad0" stroke-width="1.4"/>
<line x1="79.48" y1="432.03" x2="79.48" y2="444.06" stroke="#1a1ad0" stroke-width="1.4"/>
<line x1="76.68" y1="432.03" x2="82.28" y2="432.03" stroke="#1a1ad0" stroke-width="1.4"/>
<line x1="76.68" y1="444.06" x2="82.28" y2="444.06" stroke="#1a1ad0" stroke-width="1.4"/>
<line x1="91.9" y1="431.53" x2="91.9" y2="443.56" stroke="#1a1ad0" stroke-width="1.4"/>
<line x1="89.1" y1="431.53" x2="94.7" y2="431.53" stroke="#1a1ad0" stroke-width="1.4"/>
<line x1="89.1" y1="443.56" x2="94.7" y2="443.56" stroke="#1a1ad0" stroke-width="1.4"/>
<line x1="104.32" y1="429.53" x2="104.32" y2="441.56" stroke="#1a1ad0" stroke-width="1.4"/>
<line x1="101.52" y1="429.53" x2="107.12" y2="429.53" stroke="#1a1ad0" stroke-width="1.4"/>
<line x1="101.52" y1="441.56" x2="107.12" y2="441.56" stroke="#1a1ad0" stroke-width="1.4"/>
<line x1="116.74" y1="424.77" x2="116.74" y2="436.79" stroke="#1a1ad0" stroke-width="1.4"/>
<line x1="113.94" y1="424.77" x2="119.54" y2="424.77" stroke="#1a1ad0" stroke-width="1.4"/>
<line x1="113.94" y1="436.79" x2="119.54" y2="436.79" stroke="#1a1ad0" stroke-width="1.4"/>
<line x1="129.16" y1="425.27" x2="129.16" y2="436.29" stroke="#1a1ad0" stroke-width="1.4"/>
<line x1="126.36" y1="425.27" x2="131.96" y2="425.27" stroke="#1a1ad0" stroke-width="1.4"/>
<line x1="126.36" y1="436.29" x2="131.96" y2="436.29" stroke="#1a1ad0" stroke-width="1.4"/>
<line x1="141.58" y1="420.51" x2="141.58" y2="435.54" stroke="#1a1ad0" stroke-width="1.4"/>
<line x1="138.78" y1="420.51" x2="144.38" y2="420.51" stroke="#1a1ad0" stroke-width="1.4"/>
<line x1="138.78" y1="435.54" x2="144.38" y2="435.54" stroke="#1a1ad0" stroke-width="1.4"/>
<line x1="154" y1="416.75" x2="154" y2="432.78" stroke="#1a1ad0" stroke-width="1.4"/>
<line x1="151.2" y1="416.75" x2="156.8" y2="416.75" stroke="#1a1ad0" stroke-width="1.4"/>
<line x1="151.2" y1="432.78" x2="156.8" y2="432.78" stroke="#1a1ad0" stroke-width="1.4"/>
<line x1="166.42" y1="413.74" x2="166.42" y2="428.78" stroke="#1a1ad0" stroke-width="1.4"/>
<line x1="163.62" y1="413.74" x2="169.22" y2="413.74" stroke="#1a1ad0" stroke-width="1.4"/>
<line x1="163.62" y1="428.78" x2="169.22" y2="428.78" stroke="#1a1ad0" stroke-width="1.4"/>
<line x1="178.84" y1="410.98" x2="178.84" y2="426.02" stroke="#1a1ad0" stroke-width="1.4"/>
<line x1="176.04" y1="410.98" x2="181.64" y2="410.98" stroke="#1a1ad0" stroke-width="1.4"/>
<line x1="176.04" y1="426.02" x2="181.64" y2="426.02" stroke="#1a1ad0" stroke-width="1.4"/>
<line x1="191.26" y1="408.98" x2="191.26" y2="424.01" stroke="#1a1ad0" stroke-width="1.4"/>
<line x1="188.46" y1="408.98" x2="194.06" y2="408.98" stroke="#1a1ad0" stroke-width="1.4"/>
<line x1="188.46" y1="424.01" x2="194.06" y2="424.01" stroke="#1a1ad0" stroke-width="1.4"/>
<line x1="203.68" y1="405.72" x2="203.68" y2="422.26" stroke="#1a1ad0" stroke-width="1.4"/>
<line x1="200.88" y1="405.72" x2="206.48" y2="405.72" stroke="#1a1ad0" stroke-width="1.4"/>
<line x1="200.88" y1="422.26" x2="206.48" y2="422.26" stroke="#1a1ad0" stroke-width="1.4"/>
<line x1="216.1" y1="402.71" x2="216.1" y2="419.25" stroke="#1a1ad0" stroke-width="1.4"/>
<line x1="213.3" y1="402.71" x2="218.9" y2="402.71" stroke="#1a1ad0" stroke-width="1.4"/>
<line x1="213.3" y1="419.25" x2="218.9" y2="419.25" stroke="#1a1ad0" stroke-width="1.4"/>
<line x1="228.52" y1="404.47" x2="228.52" y2="419.5" stroke="#1a1ad0" stroke-width="1.4"/>
<line x1="225.72" y1="404.47" x2="231.32" y2="404.47" stroke="#1a1ad0" stroke-width="1.4"/>
<line x1="225.72" y1="419.5" x2="231.32" y2="419.5" stroke="#1a1ad0" stroke-width="1.4"/>
<line x1="240.94" y1="407.47" x2="240.94" y2="421.01" stroke="#1a1ad0" stroke-width="1.4"/>
<line x1="238.14" y1="407.47" x2="243.74" y2="407.47" stroke="#1a1ad0" stroke-width="1.4"/>
<line x1="238.14" y1="421.01" x2="243.74" y2="421.01" stroke="#1a1ad0" stroke-width="1.4"/>
<line x1="253.36" y1="413.49" x2="253.36" y2="425.02" stroke="#1a1ad0" stroke-width="1.4"/>
<line x1="250.56" y1="413.49" x2="256.16" y2="413.49" stroke="#1a1ad0" stroke-width="1.4"/>
<line x1="250.56" y1="425.02" x2="256.16" y2="425.02" stroke="#1a1ad0" stroke-width="1.4"/>
<line x1="265.78" y1="413.49" x2="265.78" y2="426.52" stroke="#1a1ad0" stroke-width="1.4"/>
<line x1="262.98" y1="413.49" x2="268.58" y2="413.49" stroke="#1a1ad0" stroke-width="1.4"/>
<line x1="262.98" y1="426.52" x2="268.58" y2="426.52" stroke="#1a1ad0" stroke-width="1.4"/>
<line x1="278.2" y1="415.49" x2="278.2" y2="427.02" stroke="#1a1ad0" stroke-width="1.4"/>
<line x1="275.4" y1="415.49" x2="281" y2="415.49" stroke="#1a1ad0" stroke-width="1.4"/>
<line x1="275.4" y1="427.02" x2="281" y2="427.02" stroke="#1a1ad0" stroke-width="1.4"/>
<line x1="290.62" y1="417.5" x2="290.62" y2="429.53" stroke="#1a1ad0" stroke-width="1.4"/>
<line x1="287.82" y1="417.5" x2="293.42" y2="417.5" stroke="#1a1ad0" stroke-width="1.4"/>
<line x1="287.82" y1="429.53" x2="293.42" y2="429.53" stroke="#1a1ad0" stroke-width="1.4"/>
<line x1="303.04" y1="419.75" x2="303.04" y2="430.78" stroke="#1a1ad0" stroke-width="1.4"/>
<line x1="300.24" y1="419.75" x2="305.84" y2="419.75" stroke="#1a1ad0" stroke-width="1.4"/>
<line x1="300.24" y1="430.78" x2="305.84" y2="430.78" stroke="#1a1ad0" stroke-width="1.4"/>
<line x1="315.46" y1="421.01" x2="315.46" y2="432.03" stroke="#1a1ad0" stroke-width="1.4"/>
<line x1="312.66" y1="421.01" x2="318.26" y2="421.01" stroke="#1a1ad0" stroke-width="1.4"/>
<line x1="312.66" y1="432.03" x2="318.26" y2="432.03" stroke="#1a1ad0" stroke-width="1.4"/>
<circle cx="29.8" cy="439.3" r="2.6" fill="#f01010"/>
<rect x="27.6" y="431.84" width="4.4" height="4.4" fill="#000"/>
<path d="M29.8 427.77 L32.33 432.6 L27.27 432.6Z" fill="#1a1ad0"/>
<circle cx="42.22" cy="442.81" r="2.6" fill="#f01010"/>
<rect x="40.02" y="435.85" width="4.4" height="4.4" fill="#000"/>
<path d="M42.22 429.52 L44.75 434.35 L39.69 434.35Z" fill="#1a1ad0"/>
<circle cx="54.64" cy="446.32" r="2.6" fill="#f01010"/>
<rect x="52.44" y="438.85" width="4.4" height="4.4" fill="#000"/>
<path d="M54.64 431.78 L57.17 436.61 L52.11 436.61Z" fill="#1a1ad0"/>
<circle cx="67.06" cy="449.83" r="2.6" fill="#f01010"/>
<rect x="64.86" y="442.36" width="4.4" height="4.4" fill="#000"/>
<path d="M67.06 434.29 L69.59 439.12 L64.53 439.12Z" fill="#1a1ad0"/>
<circle cx="79.48" cy="452.58" r="2.6" fill="#f01010"/>
<rect x="77.28" y="444.12" width="4.4" height="4.4" fill="#000"/>
<path d="M79.48 435.29 L82.01 440.12 L76.95 440.12Z" fill="#1a1ad0"/>
<circle cx="91.9" cy="452.08" r="2.6" fill="#f01010"/>
<rect x="89.7" y="444.12" width="4.4" height="4.4" fill="#000"/>
<path d="M91.9 434.79 L94.43 439.62 L89.37 439.62Z" fill="#1a1ad0"/>
<circle cx="104.32" cy="447.07" r="2.6" fill="#f01010"/>
<rect x="102.12" y="440.11" width="4.4" height="4.4" fill="#000"/>
<path d="M104.32 432.78 L106.85 437.61 L101.79 437.61Z" fill="#1a1ad0"/>
<circle cx="116.74" cy="437.3" r="2.6" fill="#f01010"/>
<rect x="114.54" y="428.83" width="4.4" height="4.4" fill="#000"/>
<path d="M116.74 428.02 L119.27 432.85 L114.21 432.85Z" fill="#1a1ad0"/>
<circle cx="129.16" cy="427.27" r="2.6" fill="#f01010"/>
<rect x="126.96" y="420.06" width="4.4" height="4.4" fill="#000"/>
<path d="M129.16 428.02 L131.69 432.85 L126.63 432.85Z" fill="#1a1ad0"/>
<circle cx="141.58" cy="412.24" r="2.6" fill="#f01010"/>
<rect x="139.38" y="406.28" width="4.4" height="4.4" fill="#000"/>
<path d="M141.58 425.26 L144.11 430.09 L139.05 430.09Z" fill="#1a1ad0"/>
<circle cx="154" cy="394.69" r="2.6" fill="#f01010"/>
<rect x="151.8" y="388.73" width="4.4" height="4.4" fill="#000"/>
<path d="M154 422.01 L156.53 426.84 L151.47 426.84Z" fill="#1a1ad0"/>
<circle cx="166.42" cy="378.15" r="2.6" fill="#f01010"/>
<rect x="164.22" y="374.2" width="4.4" height="4.4" fill="#000"/>
<path d="M166.42 418.5 L168.95 423.33 L163.89 423.33Z" fill="#1a1ad0"/>
<circle cx="178.84" cy="369.88" r="2.6" fill="#f01010"/>
<rect x="176.64" y="365.43" width="4.4" height="4.4" fill="#000"/>
<path d="M178.84 415.74 L181.37 420.57 L176.31 420.57Z" fill="#1a1ad0"/>
<circle cx="191.26" cy="367.38" r="2.6" fill="#f01010"/>
<rect x="189.06" y="361.92" width="4.4" height="4.4" fill="#000"/>
<path d="M191.26 413.74 L193.79 418.57 L188.73 418.57Z" fill="#1a1ad0"/>
<circle cx="203.68" cy="364.62" r="2.6" fill="#f01010"/>
<rect x="201.48" y="360.17" width="4.4" height="4.4" fill="#000"/>
<path d="M203.68 411.23 L206.21 416.06 L201.15 416.06Z" fill="#1a1ad0"/>
<circle cx="216.1" cy="367.13" r="2.6" fill="#f01010"/>
<rect x="213.9" y="362.42" width="4.4" height="4.4" fill="#000"/>
<path d="M216.1 408.22 L218.63 413.05 L213.57 413.05Z" fill="#1a1ad0"/>
<circle cx="228.52" cy="374.4" r="2.6" fill="#f01010"/>
<rect x="226.32" y="371.69" width="4.4" height="4.4" fill="#000"/>
<path d="M228.52 409.23 L231.05 414.06 L225.99 414.06Z" fill="#1a1ad0"/>
<circle cx="240.94" cy="396.45" r="2.6" fill="#f01010"/>
<rect x="238.74" y="390.99" width="4.4" height="4.4" fill="#000"/>
<path d="M240.94 411.48 L243.47 416.31 L238.41 416.31Z" fill="#1a1ad0"/>
<circle cx="253.36" cy="411.48" r="2.6" fill="#f01010"/>
<rect x="251.16" y="403.77" width="4.4" height="4.4" fill="#000"/>
<path d="M253.36 416.49 L255.89 421.32 L250.83 421.32Z" fill="#1a1ad0"/>
<circle cx="265.78" cy="418" r="2.6" fill="#f01010"/>
<rect x="263.58" y="408.78" width="4.4" height="4.4" fill="#000"/>
<path d="M265.78 417.24 L268.31 422.07 L263.25 422.07Z" fill="#1a1ad0"/>
<circle cx="278.2" cy="421.26" r="2.6" fill="#f01010"/>
<rect x="276" y="412.79" width="4.4" height="4.4" fill="#000"/>
<path d="M278.2 418.5 L280.73 423.33 L275.67 423.33Z" fill="#1a1ad0"/>
<circle cx="290.62" cy="428.02" r="2.6" fill="#f01010"/>
<rect x="288.42" y="420.31" width="4.4" height="4.4" fill="#000"/>
<path d="M290.62 420.75 L293.15 425.58 L288.09 425.58Z" fill="#1a1ad0"/>
<circle cx="303.04" cy="432.03" r="2.6" fill="#f01010"/>
<rect x="300.84" y="425.57" width="4.4" height="4.4" fill="#000"/>
<path d="M303.04 422.51 L305.57 427.34 L300.51 427.34Z" fill="#1a1ad0"/>
<circle cx="315.46" cy="435.54" r="2.6" fill="#f01010"/>
<rect x="313.26" y="429.33" width="4.4" height="4.4" fill="#000"/>
<path d="M315.46 423.76 L317.99 428.59 L312.93 428.59Z" fill="#1a1ad0"/>
<rect x="26.8" y="521" width="289" height="10.2" fill="#fff" stroke="#000" stroke-width="1.6"/>
<rect x="26" y="520.2" width="68.3" height="11.6" fill="#000"/>
<rect x="240.7" y="520.2" width="75.9" height="11.6" fill="#000"/>
<text font-family='"Liberation Sans", sans-serif' font-size="11.8" font-weight="bold" text-anchor="middle" fill="#000" transform="translate(171.4 550.6)" stroke="#000" stroke-width="0.25">Hours a day</text>
<text font-family='"Liberation Sans", sans-serif' font-size="10" font-weight="bold" text-anchor="middle" fill="#000" transform="translate(9.7 414.9) rotate(-90) scale(1.045 1)" stroke="#000" stroke-width="0.2">Temperature (°C)</text>
<path d="M59 309.66 L61.42 314.28 L56.58 314.28Z" fill="#1a1ad0"/>
<text font-family='"Liberation Sans", sans-serif' font-size="10.2" font-weight="bold" text-anchor="start" fill="#000" transform="translate(73.2 314.6) scale(0.940 1)" stroke="#000" stroke-width="0.2">Base</text>
<rect x="147.9" y="309.7" width="4.2" height="4.2" fill="#000"/>
<text font-family='"Liberation Sans", sans-serif' font-size="10.2" font-weight="bold" text-anchor="start" fill="#000" transform="translate(164.2 314.6) scale(0.950 1)" stroke="#000" stroke-width="0.2">Mid-zone</text>
<circle cx="249.1" cy="311.5" r="2.6" fill="#f01010"/>
<text font-family='"Liberation Sans", sans-serif' font-size="10.2" font-weight="bold" text-anchor="start" fill="#000" transform="translate(263.8 314.6) scale(0.920 1)" stroke="#000" stroke-width="0.2">Crown</text>
<line x1="386.7" y1="327.5" x2="386.7" y2="503.2" stroke="#000" stroke-width="1.6"/>
<line x1="385.7" y1="502.2" x2="676.9" y2="502.2" stroke="#000" stroke-width="1.6"/>
<line x1="381.8" y1="502.2" x2="386.7" y2="502.2" stroke="#000" stroke-width="1.6"/>
<text font-family='"Liberation Sans", sans-serif' font-size="9.3" font-weight="bold" text-anchor="end" fill="#000" transform="translate(382.4 505.2) scale(0.950 1)" stroke="#000" stroke-width="0.3">75</text>
<line x1="381.8" y1="467.45" x2="386.7" y2="467.45" stroke="#000" stroke-width="1.6"/>
<text font-family='"Liberation Sans", sans-serif' font-size="9.3" font-weight="bold" text-anchor="end" fill="#000" transform="translate(382.4 470.45) scale(0.950 1)" stroke="#000" stroke-width="0.3">80</text>
<line x1="381.8" y1="432.7" x2="386.7" y2="432.7" stroke="#000" stroke-width="1.6"/>
<text font-family='"Liberation Sans", sans-serif' font-size="9.3" font-weight="bold" text-anchor="end" fill="#000" transform="translate(382.4 435.7) scale(0.950 1)" stroke="#000" stroke-width="0.3">85</text>
<line x1="381.8" y1="397.95" x2="386.7" y2="397.95" stroke="#000" stroke-width="1.6"/>
<text font-family='"Liberation Sans", sans-serif' font-size="9.3" font-weight="bold" text-anchor="end" fill="#000" transform="translate(382.4 400.95) scale(0.950 1)" stroke="#000" stroke-width="0.3">90</text>
<line x1="381.8" y1="363.2" x2="386.7" y2="363.2" stroke="#000" stroke-width="1.6"/>
<text font-family='"Liberation Sans", sans-serif' font-size="9.3" font-weight="bold" text-anchor="end" fill="#000" transform="translate(382.4 366.2) scale(0.950 1)" stroke="#000" stroke-width="0.3">95</text>
<line x1="381.8" y1="328.45" x2="386.7" y2="328.45" stroke="#000" stroke-width="1.6"/>
<text font-family='"Liberation Sans", sans-serif' font-size="9.3" font-weight="bold" text-anchor="end" fill="#000" transform="translate(382.4 331.45) scale(0.950 1)" stroke="#000" stroke-width="0.3">100</text>
<line x1="399.77" y1="502.2" x2="399.77" y2="506.2" stroke="#000" stroke-width="1.6"/>
<text font-family='"Liberation Sans", sans-serif' font-size="9.3" font-weight="bold" text-anchor="middle" fill="#000" transform="translate(399.77 520) scale(0.950 1)" stroke="#000" stroke-width="0.3">2</text>
<line x1="424.91" y1="502.2" x2="424.91" y2="506.2" stroke="#000" stroke-width="1.6"/>
<text font-family='"Liberation Sans", sans-serif' font-size="9.3" font-weight="bold" text-anchor="middle" fill="#000" transform="translate(424.91 520) scale(0.950 1)" stroke="#000" stroke-width="0.3">4</text>
<line x1="450.05" y1="502.2" x2="450.05" y2="506.2" stroke="#000" stroke-width="1.6"/>
<text font-family='"Liberation Sans", sans-serif' font-size="9.3" font-weight="bold" text-anchor="middle" fill="#000" transform="translate(450.05 520) scale(0.950 1)" stroke="#000" stroke-width="0.3">6</text>
<line x1="475.19" y1="502.2" x2="475.19" y2="506.2" stroke="#000" stroke-width="1.6"/>
<text font-family='"Liberation Sans", sans-serif' font-size="9.3" font-weight="bold" text-anchor="middle" fill="#000" transform="translate(475.19 520) scale(0.950 1)" stroke="#000" stroke-width="0.3">8</text>
<line x1="500.33" y1="502.2" x2="500.33" y2="506.2" stroke="#000" stroke-width="1.6"/>
<text font-family='"Liberation Sans", sans-serif' font-size="9.3" font-weight="bold" text-anchor="middle" fill="#000" transform="translate(500.33 520) scale(0.950 1)" stroke="#000" stroke-width="0.3">10</text>
<line x1="525.47" y1="502.2" x2="525.47" y2="506.2" stroke="#000" stroke-width="1.6"/>
<text font-family='"Liberation Sans", sans-serif' font-size="9.3" font-weight="bold" text-anchor="middle" fill="#000" transform="translate(525.47 520) scale(0.950 1)" stroke="#000" stroke-width="0.3">12</text>
<line x1="550.61" y1="502.2" x2="550.61" y2="506.2" stroke="#000" stroke-width="1.6"/>
<text font-family='"Liberation Sans", sans-serif' font-size="9.3" font-weight="bold" text-anchor="middle" fill="#000" transform="translate(550.61 520) scale(0.950 1)" stroke="#000" stroke-width="0.3">14</text>
<line x1="575.75" y1="502.2" x2="575.75" y2="506.2" stroke="#000" stroke-width="1.6"/>
<text font-family='"Liberation Sans", sans-serif' font-size="9.3" font-weight="bold" text-anchor="middle" fill="#000" transform="translate(575.75 520) scale(0.950 1)" stroke="#000" stroke-width="0.3">16</text>
<line x1="600.89" y1="502.2" x2="600.89" y2="506.2" stroke="#000" stroke-width="1.6"/>
<text font-family='"Liberation Sans", sans-serif' font-size="9.3" font-weight="bold" text-anchor="middle" fill="#000" transform="translate(600.89 520) scale(0.950 1)" stroke="#000" stroke-width="0.3">18</text>
<line x1="626.03" y1="502.2" x2="626.03" y2="506.2" stroke="#000" stroke-width="1.6"/>
<text font-family='"Liberation Sans", sans-serif' font-size="9.3" font-weight="bold" text-anchor="middle" fill="#000" transform="translate(626.03 520) scale(0.950 1)" stroke="#000" stroke-width="0.3">20</text>
<line x1="651.17" y1="502.2" x2="651.17" y2="506.2" stroke="#000" stroke-width="1.6"/>
<text font-family='"Liberation Sans", sans-serif' font-size="9.3" font-weight="bold" text-anchor="middle" fill="#000" transform="translate(651.17 520) scale(0.950 1)" stroke="#000" stroke-width="0.3">22</text>
<line x1="676.31" y1="502.2" x2="676.31" y2="506.2" stroke="#000" stroke-width="1.6"/>
<text font-family='"Liberation Sans", sans-serif' font-size="9.3" font-weight="bold" text-anchor="middle" fill="#000" transform="translate(676.31 520) scale(0.950 1)" stroke="#000" stroke-width="0.3">24</text>
<line x1="387.2" y1="341.86" x2="387.2" y2="364.1" stroke="#f01010" stroke-width="1.4"/>
<line x1="384.4" y1="341.86" x2="390" y2="341.86" stroke="#f01010" stroke-width="1.4"/>
<line x1="384.4" y1="364.1" x2="390" y2="364.1" stroke="#f01010" stroke-width="1.4"/>
<line x1="399.77" y1="341.66" x2="399.77" y2="363.89" stroke="#f01010" stroke-width="1.4"/>
<line x1="396.97" y1="341.66" x2="402.57" y2="341.66" stroke="#f01010" stroke-width="1.4"/>
<line x1="396.97" y1="363.89" x2="402.57" y2="363.89" stroke="#f01010" stroke-width="1.4"/>
<line x1="412.34" y1="338.88" x2="412.34" y2="361.11" stroke="#f01010" stroke-width="1.4"/>
<line x1="409.54" y1="338.88" x2="415.14" y2="338.88" stroke="#f01010" stroke-width="1.4"/>
<line x1="409.54" y1="361.11" x2="415.14" y2="361.11" stroke="#f01010" stroke-width="1.4"/>
<line x1="424.91" y1="336.79" x2="424.91" y2="359.03" stroke="#f01010" stroke-width="1.4"/>
<line x1="422.11" y1="336.79" x2="427.71" y2="336.79" stroke="#f01010" stroke-width="1.4"/>
<line x1="422.11" y1="359.03" x2="427.71" y2="359.03" stroke="#f01010" stroke-width="1.4"/>
<line x1="437.48" y1="335.4" x2="437.48" y2="357.64" stroke="#f01010" stroke-width="1.4"/>
<line x1="434.68" y1="335.4" x2="440.28" y2="335.4" stroke="#f01010" stroke-width="1.4"/>
<line x1="434.68" y1="357.64" x2="440.28" y2="357.64" stroke="#f01010" stroke-width="1.4"/>
<line x1="450.05" y1="334.01" x2="450.05" y2="356.25" stroke="#f01010" stroke-width="1.4"/>
<line x1="447.25" y1="334.01" x2="452.85" y2="334.01" stroke="#f01010" stroke-width="1.4"/>
<line x1="447.25" y1="356.25" x2="452.85" y2="356.25" stroke="#f01010" stroke-width="1.4"/>
<line x1="462.62" y1="332.62" x2="462.62" y2="354.86" stroke="#f01010" stroke-width="1.4"/>
<line x1="459.82" y1="332.62" x2="465.42" y2="332.62" stroke="#f01010" stroke-width="1.4"/>
<line x1="459.82" y1="354.86" x2="465.42" y2="354.86" stroke="#f01010" stroke-width="1.4"/>
<line x1="475.19" y1="332.62" x2="475.19" y2="354.86" stroke="#f01010" stroke-width="1.4"/>
<line x1="472.39" y1="332.62" x2="477.99" y2="332.62" stroke="#f01010" stroke-width="1.4"/>
<line x1="472.39" y1="354.86" x2="477.99" y2="354.86" stroke="#f01010" stroke-width="1.4"/>
<line x1="487.76" y1="339.71" x2="487.76" y2="370.29" stroke="#f01010" stroke-width="1.4"/>
<line x1="484.96" y1="339.71" x2="490.56" y2="339.71" stroke="#f01010" stroke-width="1.4"/>
<line x1="484.96" y1="370.29" x2="490.56" y2="370.29" stroke="#f01010" stroke-width="1.4"/>
<line x1="500.33" y1="359.03" x2="500.33" y2="397.95" stroke="#f01010" stroke-width="1.4"/>
<line x1="497.53" y1="359.03" x2="503.13" y2="359.03" stroke="#f01010" stroke-width="1.4"/>
<line x1="497.53" y1="397.95" x2="503.13" y2="397.95" stroke="#f01010" stroke-width="1.4"/>
<line x1="512.9" y1="383.15" x2="512.9" y2="424.85" stroke="#f01010" stroke-width="1.4"/>
<line x1="510.1" y1="383.15" x2="515.7" y2="383.15" stroke="#f01010" stroke-width="1.4"/>
<line x1="510.1" y1="424.85" x2="515.7" y2="424.85" stroke="#f01010" stroke-width="1.4"/>
<line x1="525.47" y1="407.68" x2="525.47" y2="452.16" stroke="#f01010" stroke-width="1.4"/>
<line x1="522.67" y1="407.68" x2="528.27" y2="407.68" stroke="#f01010" stroke-width="1.4"/>
<line x1="522.67" y1="452.16" x2="528.27" y2="452.16" stroke="#f01010" stroke-width="1.4"/>
<line x1="538.04" y1="423.18" x2="538.04" y2="467.66" stroke="#f01010" stroke-width="1.4"/>
<line x1="535.24" y1="423.18" x2="540.84" y2="423.18" stroke="#f01010" stroke-width="1.4"/>
<line x1="535.24" y1="467.66" x2="540.84" y2="467.66" stroke="#f01010" stroke-width="1.4"/>
<line x1="550.61" y1="428.18" x2="550.61" y2="474.75" stroke="#f01010" stroke-width="1.4"/>
<line x1="547.81" y1="428.18" x2="553.41" y2="428.18" stroke="#f01010" stroke-width="1.4"/>
<line x1="547.81" y1="474.75" x2="553.41" y2="474.75" stroke="#f01010" stroke-width="1.4"/>
<line x1="563.18" y1="430.62" x2="563.18" y2="475.1" stroke="#f01010" stroke-width="1.4"/>
<line x1="560.38" y1="430.62" x2="565.98" y2="430.62" stroke="#f01010" stroke-width="1.4"/>
<line x1="560.38" y1="475.1" x2="565.98" y2="475.1" stroke="#f01010" stroke-width="1.4"/>
<line x1="575.75" y1="426.79" x2="575.75" y2="467.8" stroke="#f01010" stroke-width="1.4"/>
<line x1="572.95" y1="426.79" x2="578.55" y2="426.79" stroke="#f01010" stroke-width="1.4"/>
<line x1="572.95" y1="467.8" x2="578.55" y2="467.8" stroke="#f01010" stroke-width="1.4"/>
<line x1="588.32" y1="418.52" x2="588.32" y2="454.66" stroke="#f01010" stroke-width="1.4"/>
<line x1="585.52" y1="418.52" x2="591.12" y2="418.52" stroke="#f01010" stroke-width="1.4"/>
<line x1="585.52" y1="454.66" x2="591.12" y2="454.66" stroke="#f01010" stroke-width="1.4"/>
<line x1="600.89" y1="398.99" x2="600.89" y2="427.49" stroke="#f01010" stroke-width="1.4"/>
<line x1="598.09" y1="398.99" x2="603.69" y2="398.99" stroke="#f01010" stroke-width="1.4"/>
<line x1="598.09" y1="427.49" x2="603.69" y2="427.49" stroke="#f01010" stroke-width="1.4"/>
<line x1="613.46" y1="376.27" x2="613.46" y2="400.59" stroke="#f01010" stroke-width="1.4"/>
<line x1="610.66" y1="376.27" x2="616.26" y2="376.27" stroke="#f01010" stroke-width="1.4"/>
<line x1="610.66" y1="400.59" x2="616.26" y2="400.59" stroke="#f01010" stroke-width="1.4"/>
<line x1="626.03" y1="365.63" x2="626.03" y2="387.18" stroke="#f01010" stroke-width="1.4"/>
<line x1="623.23" y1="365.63" x2="628.83" y2="365.63" stroke="#f01010" stroke-width="1.4"/>
<line x1="623.23" y1="387.18" x2="628.83" y2="387.18" stroke="#f01010" stroke-width="1.4"/>
<line x1="638.6" y1="359.03" x2="638.6" y2="381.27" stroke="#f01010" stroke-width="1.4"/>
<line x1="635.8" y1="359.03" x2="641.4" y2="359.03" stroke="#f01010" stroke-width="1.4"/>
<line x1="635.8" y1="381.27" x2="641.4" y2="381.27" stroke="#f01010" stroke-width="1.4"/>
<line x1="651.17" y1="354.16" x2="651.17" y2="376.4" stroke="#f01010" stroke-width="1.4"/>
<line x1="648.37" y1="354.16" x2="653.97" y2="354.16" stroke="#f01010" stroke-width="1.4"/>
<line x1="648.37" y1="376.4" x2="653.97" y2="376.4" stroke="#f01010" stroke-width="1.4"/>
<line x1="663.74" y1="348.61" x2="663.74" y2="370.84" stroke="#f01010" stroke-width="1.4"/>
<line x1="660.94" y1="348.61" x2="666.54" y2="348.61" stroke="#f01010" stroke-width="1.4"/>
<line x1="660.94" y1="370.84" x2="666.54" y2="370.84" stroke="#f01010" stroke-width="1.4"/>
<line x1="676.31" y1="345.13" x2="676.31" y2="368.06" stroke="#f01010" stroke-width="1.4"/>
<line x1="673.51" y1="345.13" x2="679.11" y2="345.13" stroke="#f01010" stroke-width="1.4"/>
<line x1="673.51" y1="368.06" x2="679.11" y2="368.06" stroke="#f01010" stroke-width="1.4"/>
<line x1="387.2" y1="343.74" x2="387.2" y2="367.65" stroke="#000" stroke-width="1.8"/>
<line x1="384.4" y1="343.74" x2="390" y2="343.74" stroke="#000" stroke-width="1.4"/>
<line x1="384.4" y1="367.65" x2="390" y2="367.65" stroke="#000" stroke-width="1.4"/>
<line x1="399.77" y1="342.42" x2="399.77" y2="366.33" stroke="#000" stroke-width="1.8"/>
<line x1="396.97" y1="342.42" x2="402.57" y2="342.42" stroke="#000" stroke-width="1.4"/>
<line x1="396.97" y1="366.33" x2="402.57" y2="366.33" stroke="#000" stroke-width="1.4"/>
<line x1="412.34" y1="339.22" x2="412.34" y2="363.13" stroke="#000" stroke-width="1.8"/>
<line x1="409.54" y1="339.22" x2="415.14" y2="339.22" stroke="#000" stroke-width="1.4"/>
<line x1="409.54" y1="363.13" x2="415.14" y2="363.13" stroke="#000" stroke-width="1.4"/>
<line x1="424.91" y1="337.55" x2="424.91" y2="361.46" stroke="#000" stroke-width="1.8"/>
<line x1="422.11" y1="337.55" x2="427.71" y2="337.55" stroke="#000" stroke-width="1.4"/>
<line x1="422.11" y1="361.46" x2="427.71" y2="361.46" stroke="#000" stroke-width="1.4"/>
<line x1="437.48" y1="336.37" x2="437.48" y2="360.28" stroke="#000" stroke-width="1.8"/>
<line x1="434.68" y1="336.37" x2="440.28" y2="336.37" stroke="#000" stroke-width="1.4"/>
<line x1="434.68" y1="360.28" x2="440.28" y2="360.28" stroke="#000" stroke-width="1.4"/>
<line x1="450.05" y1="334.36" x2="450.05" y2="358.27" stroke="#000" stroke-width="1.8"/>
<line x1="447.25" y1="334.36" x2="452.85" y2="334.36" stroke="#000" stroke-width="1.4"/>
<line x1="447.25" y1="358.27" x2="452.85" y2="358.27" stroke="#000" stroke-width="1.4"/>
<line x1="462.62" y1="332.55" x2="462.62" y2="356.46" stroke="#000" stroke-width="1.8"/>
<line x1="459.82" y1="332.55" x2="465.42" y2="332.55" stroke="#000" stroke-width="1.4"/>
<line x1="459.82" y1="356.46" x2="465.42" y2="356.46" stroke="#000" stroke-width="1.4"/>
<line x1="475.19" y1="332.48" x2="475.19" y2="356.39" stroke="#000" stroke-width="1.8"/>
<line x1="472.39" y1="332.48" x2="477.99" y2="332.48" stroke="#000" stroke-width="1.4"/>
<line x1="472.39" y1="356.39" x2="477.99" y2="356.39" stroke="#000" stroke-width="1.4"/>
<line x1="487.76" y1="342.35" x2="487.76" y2="375.71" stroke="#000" stroke-width="1.8"/>
<line x1="484.96" y1="342.35" x2="490.56" y2="342.35" stroke="#000" stroke-width="1.4"/>
<line x1="484.96" y1="375.71" x2="490.56" y2="375.71" stroke="#000" stroke-width="1.4"/>
<line x1="500.33" y1="356.74" x2="500.33" y2="397.88" stroke="#000" stroke-width="1.8"/>
<line x1="497.53" y1="356.74" x2="503.13" y2="356.74" stroke="#000" stroke-width="1.4"/>
<line x1="497.53" y1="397.88" x2="503.13" y2="397.88" stroke="#000" stroke-width="1.4"/>
<line x1="512.9" y1="382.45" x2="512.9" y2="425.54" stroke="#000" stroke-width="1.8"/>
<line x1="510.1" y1="382.45" x2="515.7" y2="382.45" stroke="#000" stroke-width="1.4"/>
<line x1="510.1" y1="425.54" x2="515.7" y2="425.54" stroke="#000" stroke-width="1.4"/>
<line x1="525.47" y1="405.59" x2="525.47" y2="450.07" stroke="#000" stroke-width="1.8"/>
<line x1="522.67" y1="405.59" x2="528.27" y2="405.59" stroke="#000" stroke-width="1.4"/>
<line x1="522.67" y1="450.07" x2="528.27" y2="450.07" stroke="#000" stroke-width="1.4"/>
<line x1="538.04" y1="423.87" x2="538.04" y2="466.96" stroke="#000" stroke-width="1.8"/>
<line x1="535.24" y1="423.87" x2="540.84" y2="423.87" stroke="#000" stroke-width="1.4"/>
<line x1="535.24" y1="466.96" x2="540.84" y2="466.96" stroke="#000" stroke-width="1.4"/>
<line x1="550.61" y1="431.03" x2="550.61" y2="476.9" stroke="#000" stroke-width="1.8"/>
<line x1="547.81" y1="431.03" x2="553.41" y2="431.03" stroke="#000" stroke-width="1.4"/>
<line x1="547.81" y1="476.9" x2="553.41" y2="476.9" stroke="#000" stroke-width="1.4"/>
<line x1="563.18" y1="431.31" x2="563.18" y2="475.79" stroke="#000" stroke-width="1.8"/>
<line x1="560.38" y1="431.31" x2="565.98" y2="431.31" stroke="#000" stroke-width="1.4"/>
<line x1="560.38" y1="475.79" x2="565.98" y2="475.79" stroke="#000" stroke-width="1.4"/>
<line x1="575.75" y1="429.78" x2="575.75" y2="472.87" stroke="#000" stroke-width="1.8"/>
<line x1="572.95" y1="429.78" x2="578.55" y2="429.78" stroke="#000" stroke-width="1.4"/>
<line x1="572.95" y1="472.87" x2="578.55" y2="472.87" stroke="#000" stroke-width="1.4"/>
<line x1="588.32" y1="418.04" x2="588.32" y2="455.15" stroke="#000" stroke-width="1.8"/>
<line x1="585.52" y1="418.04" x2="591.12" y2="418.04" stroke="#000" stroke-width="1.4"/>
<line x1="585.52" y1="455.15" x2="591.12" y2="455.15" stroke="#000" stroke-width="1.4"/>
<line x1="600.89" y1="400.94" x2="600.89" y2="430.82" stroke="#000" stroke-width="1.8"/>
<line x1="598.09" y1="400.94" x2="603.69" y2="400.94" stroke="#000" stroke-width="1.4"/>
<line x1="598.09" y1="430.82" x2="603.69" y2="430.82" stroke="#000" stroke-width="1.4"/>
<line x1="613.46" y1="383.01" x2="613.46" y2="408.72" stroke="#000" stroke-width="1.8"/>
<line x1="610.66" y1="383.01" x2="616.26" y2="383.01" stroke="#000" stroke-width="1.4"/>
<line x1="610.66" y1="408.72" x2="616.26" y2="408.72" stroke="#000" stroke-width="1.4"/>
<line x1="626.03" y1="373.14" x2="626.03" y2="398.16" stroke="#000" stroke-width="1.8"/>
<line x1="623.23" y1="373.14" x2="628.83" y2="373.14" stroke="#000" stroke-width="1.4"/>
<line x1="623.23" y1="398.16" x2="628.83" y2="398.16" stroke="#000" stroke-width="1.4"/>
<line x1="638.6" y1="364.24" x2="638.6" y2="388.57" stroke="#000" stroke-width="1.8"/>
<line x1="635.8" y1="364.24" x2="641.4" y2="364.24" stroke="#000" stroke-width="1.4"/>
<line x1="635.8" y1="388.57" x2="641.4" y2="388.57" stroke="#000" stroke-width="1.4"/>
<line x1="651.17" y1="359.93" x2="651.17" y2="382.17" stroke="#000" stroke-width="1.8"/>
<line x1="648.37" y1="359.93" x2="653.97" y2="359.93" stroke="#000" stroke-width="1.4"/>
<line x1="648.37" y1="382.17" x2="653.97" y2="382.17" stroke="#000" stroke-width="1.4"/>
<line x1="663.74" y1="352.77" x2="663.74" y2="375.01" stroke="#000" stroke-width="1.8"/>
<line x1="660.94" y1="352.77" x2="666.54" y2="352.77" stroke="#000" stroke-width="1.4"/>
<line x1="660.94" y1="375.01" x2="666.54" y2="375.01" stroke="#000" stroke-width="1.4"/>
<line x1="676.31" y1="350" x2="676.31" y2="372.23" stroke="#000" stroke-width="1.8"/>
<line x1="673.51" y1="350" x2="679.11" y2="350" stroke="#000" stroke-width="1.4"/>
<line x1="673.51" y1="372.23" x2="679.11" y2="372.23" stroke="#000" stroke-width="1.4"/>
<line x1="387.2" y1="349.79" x2="387.2" y2="360.21" stroke="#1a1ad0" stroke-width="1.4"/>
<line x1="384.4" y1="349.79" x2="390" y2="349.79" stroke="#1a1ad0" stroke-width="1.4"/>
<line x1="384.4" y1="360.21" x2="390" y2="360.21" stroke="#1a1ad0" stroke-width="1.4"/>
<line x1="399.77" y1="348.95" x2="399.77" y2="359.38" stroke="#1a1ad0" stroke-width="1.4"/>
<line x1="396.97" y1="348.95" x2="402.57" y2="348.95" stroke="#1a1ad0" stroke-width="1.4"/>
<line x1="396.97" y1="359.38" x2="402.57" y2="359.38" stroke="#1a1ad0" stroke-width="1.4"/>
<line x1="412.34" y1="348.95" x2="412.34" y2="359.38" stroke="#1a1ad0" stroke-width="1.4"/>
<line x1="409.54" y1="348.95" x2="415.14" y2="348.95" stroke="#1a1ad0" stroke-width="1.4"/>
<line x1="409.54" y1="359.38" x2="415.14" y2="359.38" stroke="#1a1ad0" stroke-width="1.4"/>
<line x1="424.91" y1="350.48" x2="424.91" y2="360.91" stroke="#1a1ad0" stroke-width="1.4"/>
<line x1="422.11" y1="350.48" x2="427.71" y2="350.48" stroke="#1a1ad0" stroke-width="1.4"/>
<line x1="422.11" y1="360.91" x2="427.71" y2="360.91" stroke="#1a1ad0" stroke-width="1.4"/>
<line x1="437.48" y1="348.95" x2="437.48" y2="359.38" stroke="#1a1ad0" stroke-width="1.4"/>
<line x1="434.68" y1="348.95" x2="440.28" y2="348.95" stroke="#1a1ad0" stroke-width="1.4"/>
<line x1="434.68" y1="359.38" x2="440.28" y2="359.38" stroke="#1a1ad0" stroke-width="1.4"/>
<line x1="450.05" y1="347.56" x2="450.05" y2="357.99" stroke="#1a1ad0" stroke-width="1.4"/>
<line x1="447.25" y1="347.56" x2="452.85" y2="347.56" stroke="#1a1ad0" stroke-width="1.4"/>
<line x1="447.25" y1="357.99" x2="452.85" y2="357.99" stroke="#1a1ad0" stroke-width="1.4"/>
<line x1="462.62" y1="347.28" x2="462.62" y2="357.71" stroke="#1a1ad0" stroke-width="1.4"/>
<line x1="459.82" y1="347.28" x2="465.42" y2="347.28" stroke="#1a1ad0" stroke-width="1.4"/>
<line x1="459.82" y1="357.71" x2="465.42" y2="357.71" stroke="#1a1ad0" stroke-width="1.4"/>
<line x1="475.19" y1="346.03" x2="475.19" y2="356.46" stroke="#1a1ad0" stroke-width="1.4"/>
<line x1="472.39" y1="346.03" x2="477.99" y2="346.03" stroke="#1a1ad0" stroke-width="1.4"/>
<line x1="472.39" y1="356.46" x2="477.99" y2="356.46" stroke="#1a1ad0" stroke-width="1.4"/>
<line x1="487.76" y1="346.73" x2="487.76" y2="352.57" stroke="#1a1ad0" stroke-width="1.4"/>
<line x1="484.96" y1="346.73" x2="490.56" y2="346.73" stroke="#1a1ad0" stroke-width="1.4"/>
<line x1="484.96" y1="352.57" x2="490.56" y2="352.57" stroke="#1a1ad0" stroke-width="1.4"/>
<line x1="500.33" y1="346.03" x2="500.33" y2="351.87" stroke="#1a1ad0" stroke-width="1.4"/>
<line x1="497.53" y1="346.03" x2="503.13" y2="346.03" stroke="#1a1ad0" stroke-width="1.4"/>
<line x1="497.53" y1="351.87" x2="503.13" y2="351.87" stroke="#1a1ad0" stroke-width="1.4"/>
<line x1="512.9" y1="346.87" x2="512.9" y2="353.82" stroke="#1a1ad0" stroke-width="1.4"/>
<line x1="510.1" y1="346.87" x2="515.7" y2="346.87" stroke="#1a1ad0" stroke-width="1.4"/>
<line x1="510.1" y1="353.82" x2="515.7" y2="353.82" stroke="#1a1ad0" stroke-width="1.4"/>
<line x1="525.47" y1="348.47" x2="525.47" y2="356.39" stroke="#1a1ad0" stroke-width="1.4"/>
<line x1="522.67" y1="348.47" x2="528.27" y2="348.47" stroke="#1a1ad0" stroke-width="1.4"/>
<line x1="522.67" y1="356.39" x2="528.27" y2="356.39" stroke="#1a1ad0" stroke-width="1.4"/>
<line x1="538.04" y1="349.37" x2="538.04" y2="359.66" stroke="#1a1ad0" stroke-width="1.4"/>
<line x1="535.24" y1="349.37" x2="540.84" y2="349.37" stroke="#1a1ad0" stroke-width="1.4"/>
<line x1="535.24" y1="359.66" x2="540.84" y2="359.66" stroke="#1a1ad0" stroke-width="1.4"/>
<line x1="550.61" y1="349.99" x2="550.61" y2="362.5" stroke="#1a1ad0" stroke-width="1.4"/>
<line x1="547.81" y1="349.99" x2="553.41" y2="349.99" stroke="#1a1ad0" stroke-width="1.4"/>
<line x1="547.81" y1="362.5" x2="553.41" y2="362.5" stroke="#1a1ad0" stroke-width="1.4"/>
<line x1="563.18" y1="349.86" x2="563.18" y2="361.95" stroke="#1a1ad0" stroke-width="1.4"/>
<line x1="560.38" y1="349.86" x2="565.98" y2="349.86" stroke="#1a1ad0" stroke-width="1.4"/>
<line x1="560.38" y1="361.95" x2="565.98" y2="361.95" stroke="#1a1ad0" stroke-width="1.4"/>
<line x1="575.75" y1="354.37" x2="575.75" y2="377.59" stroke="#1a1ad0" stroke-width="1.4"/>
<line x1="572.95" y1="354.37" x2="578.55" y2="354.37" stroke="#1a1ad0" stroke-width="1.4"/>
<line x1="572.95" y1="377.59" x2="578.55" y2="377.59" stroke="#1a1ad0" stroke-width="1.4"/>
<line x1="588.32" y1="352.22" x2="588.32" y2="363.34" stroke="#1a1ad0" stroke-width="1.4"/>
<line x1="585.52" y1="352.22" x2="591.12" y2="352.22" stroke="#1a1ad0" stroke-width="1.4"/>
<line x1="585.52" y1="363.34" x2="591.12" y2="363.34" stroke="#1a1ad0" stroke-width="1.4"/>
<line x1="600.89" y1="351.66" x2="600.89" y2="362.78" stroke="#1a1ad0" stroke-width="1.4"/>
<line x1="598.09" y1="351.66" x2="603.69" y2="351.66" stroke="#1a1ad0" stroke-width="1.4"/>
<line x1="598.09" y1="362.78" x2="603.69" y2="362.78" stroke="#1a1ad0" stroke-width="1.4"/>
<line x1="613.46" y1="351.38" x2="613.46" y2="362.5" stroke="#1a1ad0" stroke-width="1.4"/>
<line x1="610.66" y1="351.38" x2="616.26" y2="351.38" stroke="#1a1ad0" stroke-width="1.4"/>
<line x1="610.66" y1="362.5" x2="616.26" y2="362.5" stroke="#1a1ad0" stroke-width="1.4"/>
<line x1="626.03" y1="350.27" x2="626.03" y2="361.39" stroke="#1a1ad0" stroke-width="1.4"/>
<line x1="623.23" y1="350.27" x2="628.83" y2="350.27" stroke="#1a1ad0" stroke-width="1.4"/>
<line x1="623.23" y1="361.39" x2="628.83" y2="361.39" stroke="#1a1ad0" stroke-width="1.4"/>
<line x1="638.6" y1="350.27" x2="638.6" y2="361.39" stroke="#1a1ad0" stroke-width="1.4"/>
<line x1="635.8" y1="350.27" x2="641.4" y2="350.27" stroke="#1a1ad0" stroke-width="1.4"/>
<line x1="635.8" y1="361.39" x2="641.4" y2="361.39" stroke="#1a1ad0" stroke-width="1.4"/>
<line x1="651.17" y1="350" x2="651.17" y2="361.12" stroke="#1a1ad0" stroke-width="1.4"/>
<line x1="648.37" y1="350" x2="653.97" y2="350" stroke="#1a1ad0" stroke-width="1.4"/>
<line x1="648.37" y1="361.12" x2="653.97" y2="361.12" stroke="#1a1ad0" stroke-width="1.4"/>
<line x1="663.74" y1="349.3" x2="663.74" y2="360.42" stroke="#1a1ad0" stroke-width="1.4"/>
<line x1="660.94" y1="349.3" x2="666.54" y2="349.3" stroke="#1a1ad0" stroke-width="1.4"/>
<line x1="660.94" y1="360.42" x2="666.54" y2="360.42" stroke="#1a1ad0" stroke-width="1.4"/>
<line x1="676.31" y1="347.56" x2="676.31" y2="358.68" stroke="#1a1ad0" stroke-width="1.4"/>
<line x1="673.51" y1="347.56" x2="679.11" y2="347.56" stroke="#1a1ad0" stroke-width="1.4"/>
<line x1="673.51" y1="358.68" x2="679.11" y2="358.68" stroke="#1a1ad0" stroke-width="1.4"/>
<circle cx="387.2" cy="352.98" r="2.8" fill="#f01010"/>
<rect x="384.4" y="352.89" width="5.6" height="5.6" fill="#000"/>
<path d="M387.2 351.64 L390.28 357.52 L384.12 357.52Z" fill="#1a1ad0"/>
<circle cx="399.77" cy="352.77" r="2.8" fill="#f01010"/>
<rect x="396.97" y="351.57" width="5.6" height="5.6" fill="#000"/>
<path d="M399.77 350.8 L402.85 356.68 L396.69 356.68Z" fill="#1a1ad0"/>
<circle cx="412.34" cy="349.99" r="2.8" fill="#f01010"/>
<rect x="409.54" y="348.38" width="5.6" height="5.6" fill="#000"/>
<path d="M412.34 350.8 L415.42 356.68 L409.26 356.68Z" fill="#1a1ad0"/>
<circle cx="424.91" cy="347.91" r="2.8" fill="#f01010"/>
<rect x="422.11" y="346.71" width="5.6" height="5.6" fill="#000"/>
<path d="M424.91 352.33 L427.99 358.21 L421.83 358.21Z" fill="#1a1ad0"/>
<circle cx="437.48" cy="346.52" r="2.8" fill="#f01010"/>
<rect x="434.68" y="345.53" width="5.6" height="5.6" fill="#000"/>
<path d="M437.48 350.8 L440.56 356.68 L434.4 356.68Z" fill="#1a1ad0"/>
<circle cx="450.05" cy="345.13" r="2.8" fill="#f01010"/>
<rect x="447.25" y="343.51" width="5.6" height="5.6" fill="#000"/>
<path d="M450.05 349.41 L453.13 355.29 L446.97 355.29Z" fill="#1a1ad0"/>
<circle cx="462.62" cy="343.74" r="2.8" fill="#f01010"/>
<rect x="459.82" y="341.7" width="5.6" height="5.6" fill="#000"/>
<path d="M462.62 349.14 L465.7 355.02 L459.54 355.02Z" fill="#1a1ad0"/>
<circle cx="475.19" cy="343.74" r="2.8" fill="#f01010"/>
<rect x="472.39" y="341.63" width="5.6" height="5.6" fill="#000"/>
<path d="M475.19 347.89 L478.27 353.77 L472.11 353.77Z" fill="#1a1ad0"/>
<circle cx="487.76" cy="355" r="2.8" fill="#f01010"/>
<rect x="484.96" y="356.23" width="5.6" height="5.6" fill="#000"/>
<path d="M487.76 346.29 L490.84 352.17 L484.68 352.17Z" fill="#1a1ad0"/>
<circle cx="500.33" cy="378.49" r="2.8" fill="#f01010"/>
<rect x="497.53" y="374.51" width="5.6" height="5.6" fill="#000"/>
<path d="M500.33 345.59 L503.41 351.47 L497.25 351.47Z" fill="#1a1ad0"/>
<circle cx="512.9" cy="404" r="2.8" fill="#f01010"/>
<rect x="510.1" y="401.2" width="5.6" height="5.6" fill="#000"/>
<path d="M512.9 346.98 L515.98 352.86 L509.82 352.86Z" fill="#1a1ad0"/>
<circle cx="525.47" cy="429.92" r="2.8" fill="#f01010"/>
<rect x="522.67" y="425.03" width="5.6" height="5.6" fill="#000"/>
<path d="M525.47 349.07 L528.55 354.95 L522.39 354.95Z" fill="#1a1ad0"/>
<circle cx="538.04" cy="445.42" r="2.8" fill="#f01010"/>
<rect x="535.24" y="442.62" width="5.6" height="5.6" fill="#000"/>
<path d="M538.04 351.15 L541.12 357.03 L534.96 357.03Z" fill="#1a1ad0"/>
<circle cx="550.61" cy="451.47" r="2.8" fill="#f01010"/>
<rect x="547.81" y="451.17" width="5.6" height="5.6" fill="#000"/>
<path d="M550.61 352.89 L553.69 358.77 L547.53 358.77Z" fill="#1a1ad0"/>
<circle cx="563.18" cy="452.86" r="2.8" fill="#f01010"/>
<rect x="560.38" y="450.75" width="5.6" height="5.6" fill="#000"/>
<path d="M563.18 352.54 L566.26 358.42 L560.1 358.42Z" fill="#1a1ad0"/>
<circle cx="575.75" cy="447.29" r="2.8" fill="#f01010"/>
<rect x="572.95" y="448.53" width="5.6" height="5.6" fill="#000"/>
<path d="M575.75 362.62 L578.83 368.5 L572.67 368.5Z" fill="#1a1ad0"/>
<circle cx="588.32" cy="436.59" r="2.8" fill="#f01010"/>
<rect x="585.52" y="433.79" width="5.6" height="5.6" fill="#000"/>
<path d="M588.32 354.42 L591.4 360.3 L585.24 360.3Z" fill="#1a1ad0"/>
<circle cx="600.89" cy="413.24" r="2.8" fill="#f01010"/>
<rect x="598.09" y="413.08" width="5.6" height="5.6" fill="#000"/>
<path d="M600.89 353.86 L603.97 359.74 L597.81 359.74Z" fill="#1a1ad0"/>
<circle cx="613.46" cy="388.43" r="2.8" fill="#f01010"/>
<rect x="610.66" y="393.06" width="5.6" height="5.6" fill="#000"/>
<path d="M613.46 353.58 L616.54 359.46 L610.38 359.46Z" fill="#1a1ad0"/>
<circle cx="626.03" cy="376.41" r="2.8" fill="#f01010"/>
<rect x="623.23" y="382.85" width="5.6" height="5.6" fill="#000"/>
<path d="M626.03 352.47 L629.11 358.35 L622.95 358.35Z" fill="#1a1ad0"/>
<circle cx="638.6" cy="370.15" r="2.8" fill="#f01010"/>
<rect x="635.8" y="373.61" width="5.6" height="5.6" fill="#000"/>
<path d="M638.6 352.47 L641.68 358.35 L635.52 358.35Z" fill="#1a1ad0"/>
<circle cx="651.17" cy="365.28" r="2.8" fill="#f01010"/>
<rect x="648.37" y="368.25" width="5.6" height="5.6" fill="#000"/>
<path d="M651.17 352.2 L654.25 358.08 L648.09 358.08Z" fill="#1a1ad0"/>
<circle cx="663.74" cy="359.73" r="2.8" fill="#f01010"/>
<rect x="660.94" y="361.09" width="5.6" height="5.6" fill="#000"/>
<path d="M663.74 351.5 L666.82 357.38 L660.66 357.38Z" fill="#1a1ad0"/>
<circle cx="676.31" cy="356.6" r="2.8" fill="#f01010"/>
<rect x="673.51" y="358.31" width="5.6" height="5.6" fill="#000"/>
<path d="M676.31 349.76 L679.39 355.64 L673.23 355.64Z" fill="#1a1ad0"/>
<rect x="386.2" y="526" width="290" height="10.6" fill="#fff" stroke="#000" stroke-width="1.6"/>
<rect x="385.4" y="525.2" width="67.6" height="12" fill="#000"/>
<rect x="600.7" y="525.2" width="76" height="12" fill="#000"/>
<text font-family='"Liberation Sans", sans-serif' font-size="11.8" font-weight="bold" text-anchor="middle" fill="#000" transform="translate(529.5 554.9)" stroke="#000" stroke-width="0.25">Hours a day</text>
<text font-family='"Liberation Sans", sans-serif' font-size="12" font-weight="bold" text-anchor="middle" fill="#000" transform="translate(361.4 415.6) rotate(-90) scale(0.960 1)" stroke="#000" stroke-width="0.25">RH (%)</text>
<path d="M429.3 306.94 L432.38 312.82 L426.22 312.82Z" fill="#1a1ad0"/>
<text font-family='"Liberation Sans", sans-serif' font-size="10.2" font-weight="bold" text-anchor="start" fill="#000" transform="translate(443.2 313.4) scale(0.940 1)" stroke="#000" stroke-width="0.2">Base</text>
<rect x="515.9" y="307.5" width="5" height="5" fill="#000"/>
<text font-family='"Liberation Sans", sans-serif' font-size="10.2" font-weight="bold" text-anchor="start" fill="#000" transform="translate(532.8 313.4) scale(0.950 1)" stroke="#000" stroke-width="0.2">Mid-zone</text>
<circle cx="623.2" cy="310.7" r="2.8" fill="#f01010"/>
<text font-family='"Liberation Sans", sans-serif' font-size="10.2" font-weight="bold" text-anchor="start" fill="#000" transform="translate(637.2 314.4) scale(0.920 1)" stroke="#000" stroke-width="0.2">Crown</text>
<text font-family='"Liberation Serif", serif' font-size="19.5" font-weight="bold" text-anchor="middle" fill="#000" transform="translate(369 596)">C</text>
</svg></body></html>
